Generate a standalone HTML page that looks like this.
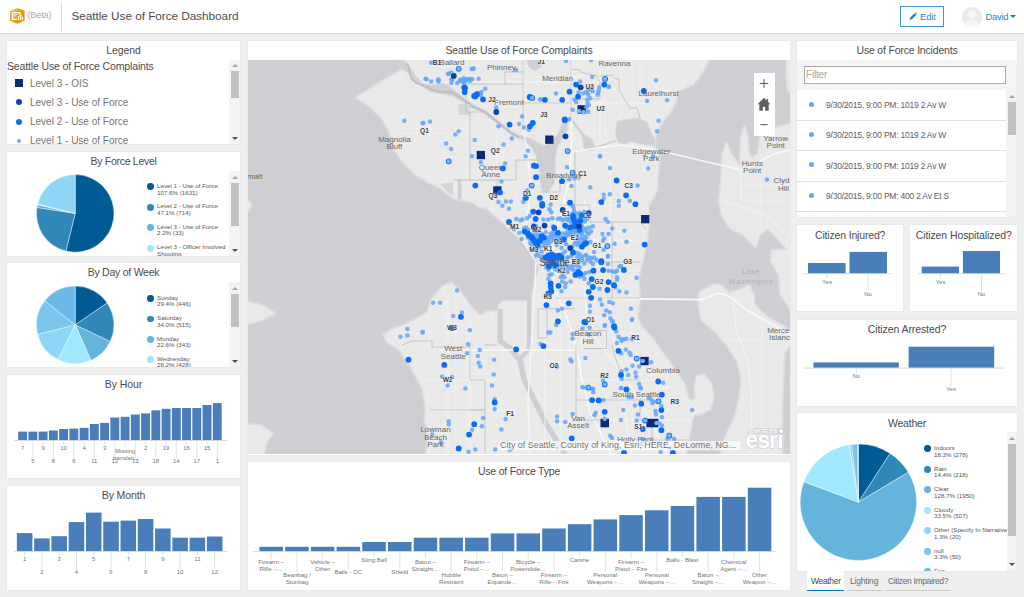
<!DOCTYPE html>
<html><head><meta charset="utf-8"><title>Seattle Use of Force Dashboard</title>
<style>
html,body{margin:0;padding:0}
body{width:1024px;height:597px;overflow:hidden;background:#efefef;font-family:"Liberation Sans",sans-serif;color:#4c4c4c;position:relative}
.abs{position:absolute}
.panel{position:absolute;background:#fff;box-shadow:0 0 1px rgba(0,0,0,.12)}
.title{position:absolute;left:0;right:0;text-align:center;font-size:11px;color:#4c4c4c;white-space:nowrap;letter-spacing:-0.1px}
svg{position:absolute;left:0;top:0;overflow:visible}
svg text{font-family:"Liberation Sans",sans-serif}
.sb{position:absolute;background:#f3f3f3}
.thumb{position:absolute;background:#c1c1c1}
.arr{position:absolute;width:0;height:0;border-left:3px solid transparent;border-right:3px solid transparent}
.up{border-bottom:3px solid #a3a3a3}
.dn{border-top:3px solid #505050}
.lg{position:absolute;font-size:10px;color:#777;white-space:nowrap}
.pl{position:absolute;font-size:6.2px;line-height:6.6px;color:#555;white-space:nowrap}
.row{position:absolute;left:0;width:209px;height:30px;border-bottom:1px solid #e0e0e0;font-size:8.5px;color:#606060;white-space:nowrap;letter-spacing:-0.22px}
.row i{position:absolute;left:12px;top:11.8px;width:5px;height:5px;border-radius:50%;background:#66a6f7}
.row span{position:absolute;left:29px;top:10px}
</style></head><body>

<div class="abs" style="left:0;top:0;width:1024px;height:33px;background:#fff;border-bottom:1px solid #d8d8d8"></div>
<svg class="abs" style="left:9px;top:7px" width="18" height="18" viewBox="0 0 18 18">
<defs><linearGradient id="lg1" x1="0" y1="0" x2="1" y2="1"><stop offset="0" stop-color="#f7c23c"/><stop offset="1" stop-color="#e08a00"/></linearGradient></defs>
<path d="M8.2 1.2L15.5 3.2V13.7L8.2 16.7L1 14.1V4Z" fill="url(#lg1)"/>
<path d="M8.2 1.2L15.5 3.2V13.7L8.2 16.7Z" fill="#e58f00" fill-opacity="0.35"/>
<path d="M3.5 5.5H10.8V8.2M3.5 5.5V12.4H8" fill="none" stroke="#fff" stroke-width="1.25"/>
<path d="M5.5 10V7.5H8.8" fill="none" stroke="#fff" stroke-width="0.8"/>
<path d="M9.6 8.9V13.3M11.8 8.1V13.3" stroke="#fff" stroke-width="1.35"/><path d="M13.6 10V13.3" stroke="#fff" stroke-width="1.1"/>
</svg>
<div class="abs" style="left:27.5px;top:10px;font-size:9.3px;color:#aaa;letter-spacing:-0.25px">(Beta)</div>
<div class="abs" style="left:61px;top:2px;width:1px;height:29px;background:#ddd"></div>
<div class="abs" style="left:71.5px;top:9.1px;font-size:11.8px;color:#4c4c4c;white-space:nowrap;letter-spacing:-0.05px">Seattle Use of Force Dashboard</div>
<div class="abs" style="left:900px;top:6px;width:42px;height:19px;border:1px solid #3b95d3;background:#fff;box-sizing:content-box"></div>
<svg class="abs" style="left:908.5px;top:12px" width="8.5" height="8.5" viewBox="0 0 9 9"><path d="M0.5 8.5L1.2 6L5.8 1.4L7.6 3.2L3 7.8Z M6.4 0.8L7 0.2L8.8 2L8.2 2.6Z" fill="#1a7fc4"/></svg>
<div class="abs" style="left:920px;top:10.5px;font-size:9.5px;color:#2b8acb;letter-spacing:-0.2px">Edit</div>
<svg class="abs" style="left:961px;top:6px" width="22" height="22" viewBox="0 0 22 22"><defs><clipPath id="av"><circle cx="11" cy="11" r="10"/></clipPath></defs><circle cx="11" cy="11" r="10" fill="#ebebeb"/><g clip-path="url(#av)" fill="#f6f6f6"><circle cx="11" cy="8.5" r="4.2"/><ellipse cx="11" cy="21" rx="8.5" ry="7.5"/></g></svg>
<div class="abs" style="left:985.5px;top:10.5px;font-size:9.5px;color:#2b8acb;letter-spacing:-0.3px">David</div>
<div class="arr" style="left:1010px;top:15px;border-top:3px solid #1a7fc4"></div>

<div class="panel" style="left:7px;top:41px;width:233px;height:103.3px;overflow:hidden">
<div class="title" style="top:3.25px;font-size:10.5px;letter-spacing:-0.090px">Legend</div>
<div class="abs" style="left:0px;top:19.4px;font-size:10.5px;color:#4c4c4c;white-space:nowrap;letter-spacing:-0.145px">Seattle Use of Force Complaints</div>
<div class="abs" style="left:7.5px;top:37.8px;width:8.7px;height:8.7px;background:#0b2a73"></div>
<div class="lg" style="left:23px;top:36.5px">Level 3 - OIS</div>
<div class="abs" style="left:9px;top:58.4px;width:6px;height:6px;border-radius:50%;background:#0a47ad"></div>
<div class="lg" style="left:23px;top:55.7px">Level 3 - Use of Force</div>
<div class="abs" style="left:9px;top:77.6px;width:6px;height:6px;border-radius:50%;background:#0f6cf5"></div>
<div class="lg" style="left:23px;top:74.9px">Level 2 - Use of Force</div>
<div class="abs" style="left:10px;top:97.8px;width:4px;height:4px;border-radius:50%;background:#6aa8f8"></div>
<div class="lg" style="left:23px;top:94.2px">Level 1 - Use of Force</div>
<div class="sb" style="left:222px;top:19px;width:11px;height:85px"></div>
<div class="arr up" style="left:225px;top:23px"></div>
<div class="thumb" style="left:224px;top:30px;width:8px;height:27px"></div>
<div class="arr dn" style="left:225px;top:96px"></div>
</div>

<div class="panel" style="left:7px;top:152px;width:233px;height:104px;overflow:hidden">
<div class="title" style="top:3.25px;font-size:10.5px;letter-spacing:-0.288px">By Force Level</div>
<svg width="233" height="104"><path d="M68.20 61.40L68.20 22.60A38.8 38.8 0 1 1 58.94 99.08Z" fill="#005b94" stroke="#fff" stroke-width="0.4" stroke-linejoin="round"/>
<path d="M68.20 61.40L58.94 99.08A38.8 38.8 0 0 1 29.86 55.46Z" fill="#2f88b8" stroke="#fff" stroke-width="0.4" stroke-linejoin="round"/>
<path d="M68.20 61.40L29.86 55.46A38.8 38.8 0 0 1 30.39 52.67Z" fill="#64b4dc" stroke="#fff" stroke-width="0.4" stroke-linejoin="round"/>
<path d="M68.20 61.40L30.39 52.67A38.8 38.8 0 0 1 30.59 51.88Z" fill="#a0e8ff" stroke="#fff" stroke-width="0.4" stroke-linejoin="round"/>
<path d="M68.20 61.40L30.59 51.88A38.8 38.8 0 0 1 68.20 22.60Z" fill="#8dd6f6" stroke="#fff" stroke-width="0.4" stroke-linejoin="round"/></svg>
<div class="abs" style="left:140.1px;top:31.4px;width:6.8px;height:6.8px;border-radius:50%;background:#005b94"></div><div class="pl" style="left:150px;top:31.0px">Level 1 - Use of Force<br>107.6% (1631)</div><div class="abs" style="left:140.1px;top:51.85px;width:6.8px;height:6.8px;border-radius:50%;background:#2f88b8"></div><div class="pl" style="left:150px;top:51.45px">Level 2 - Use of Force<br>47.1% (714)</div><div class="abs" style="left:140.1px;top:72.30000000000001px;width:6.8px;height:6.8px;border-radius:50%;background:#64b4dc"></div><div class="pl" style="left:150px;top:71.9px">Level 3 - Use of Force<br>2.2% (33)</div><div class="abs" style="left:140.1px;top:92.75px;width:6.8px;height:6.8px;border-radius:50%;background:#a0e8ff"></div><div class="pl" style="left:150px;top:92.35px">Level 3 - Officer Involved<br>Shooting</div>
<div class="sb" style="left:222px;top:19px;width:11px;height:85px"></div>
<div class="arr up" style="left:225px;top:24px"></div>
<div class="thumb" style="left:224px;top:31px;width:8px;height:43px"></div>
<div class="arr dn" style="left:225px;top:97px"></div>
</div>
<div class="panel" style="left:7px;top:263px;width:233px;height:104px;overflow:hidden">
<div class="title" style="top:3.25px;font-size:10.5px;letter-spacing:-0.249px">By Day of Week</div>
<svg width="233" height="104"><path d="M68.20 61.90L68.20 23.10A38.8 38.8 0 0 1 100.18 39.92Z" fill="#005b94" stroke="#fff" stroke-width="0.4" stroke-linejoin="round"/>
<path d="M68.20 61.90L100.18 39.92A38.8 38.8 0 0 1 103.22 78.60Z" fill="#2f88b8" stroke="#fff" stroke-width="0.4" stroke-linejoin="round"/>
<path d="M68.20 61.90L103.22 78.60A38.8 38.8 0 0 1 83.98 97.35Z" fill="#64b4dc" stroke="#fff" stroke-width="0.4" stroke-linejoin="round"/>
<path d="M68.20 61.90L83.98 97.35A38.8 38.8 0 0 1 50.89 96.62Z" fill="#a0e8ff" stroke="#fff" stroke-width="0.4" stroke-linejoin="round"/>
<path d="M68.20 61.90L50.89 96.62A38.8 38.8 0 0 1 30.55 71.29Z" fill="#8dd6f6" stroke="#fff" stroke-width="0.4" stroke-linejoin="round"/>
<path d="M68.20 61.90L30.55 71.29A38.8 38.8 0 0 1 37.83 37.75Z" fill="#7cc6ee" stroke="#fff" stroke-width="0.4" stroke-linejoin="round"/>
<path d="M68.20 61.90L37.83 37.75A38.8 38.8 0 0 1 68.20 23.10Z" fill="#6cb8e6" stroke="#fff" stroke-width="0.4" stroke-linejoin="round"/></svg>
<div class="abs" style="left:140.1px;top:32.1px;width:6.8px;height:6.8px;border-radius:50%;background:#005b94"></div><div class="pl" style="left:150px;top:31.7px">Sunday<br>29.4% (446)</div><div class="abs" style="left:140.1px;top:52.49999999999999px;width:6.8px;height:6.8px;border-radius:50%;background:#2f88b8"></div><div class="pl" style="left:150px;top:52.099999999999994px">Saturday<br>34.0% (515)</div><div class="abs" style="left:140.1px;top:72.9px;width:6.8px;height:6.8px;border-radius:50%;background:#64b4dc"></div><div class="pl" style="left:150px;top:72.5px">Monday<br>22.6% (343)</div><div class="abs" style="left:140.1px;top:93.3px;width:6.8px;height:6.8px;border-radius:50%;background:#a0e8ff"></div><div class="pl" style="left:150px;top:92.89999999999999px">Wednesday<br>28.2% (428)</div>
<div class="sb" style="left:222px;top:19px;width:11px;height:85px"></div>
<div class="arr up" style="left:225px;top:24px"></div>
<div class="thumb" style="left:224px;top:31px;width:8px;height:33px"></div>
<div class="arr dn" style="left:225px;top:97px"></div>
</div>
<div class="panel" style="left:7px;top:375px;width:233px;height:103px;overflow:hidden">
<div class="title" style="top:3.25px;font-size:10.5px;letter-spacing:-0.090px">By Hour</div>
<svg width="233" height="103"><path d="M7.5 65.5H220.5" stroke="#d9d9d9" stroke-width="1"/><rect x="11.17" y="56.60" width="8.91" height="8.40" fill="#4a7ebb"/><rect x="21.41" y="56.60" width="8.91" height="8.40" fill="#4a7ebb"/><rect x="31.66" y="56.60" width="8.91" height="8.40" fill="#4a7ebb"/><rect x="41.90" y="55.50" width="8.91" height="9.50" fill="#4a7ebb"/><rect x="52.15" y="54.00" width="8.91" height="11.00" fill="#4a7ebb"/><rect x="62.39" y="53.60" width="8.91" height="11.40" fill="#4a7ebb"/><rect x="72.64" y="52.80" width="8.91" height="12.20" fill="#4a7ebb"/><rect x="82.88" y="49.00" width="8.91" height="16.00" fill="#4a7ebb"/><rect x="93.13" y="47.90" width="8.91" height="17.10" fill="#4a7ebb"/><rect x="103.37" y="42.50" width="8.91" height="22.50" fill="#4a7ebb"/><rect x="113.62" y="41.80" width="8.91" height="23.20" fill="#4a7ebb"/><rect x="123.86" y="39.50" width="8.91" height="25.50" fill="#4a7ebb"/><rect x="134.11" y="38.40" width="8.91" height="26.60" fill="#4a7ebb"/><rect x="144.35" y="35.30" width="8.91" height="29.70" fill="#4a7ebb"/><rect x="154.60" y="33.80" width="8.91" height="31.20" fill="#4a7ebb"/><rect x="164.84" y="33.00" width="8.91" height="32.00" fill="#4a7ebb"/><rect x="175.09" y="33.00" width="8.91" height="32.00" fill="#4a7ebb"/><rect x="185.33" y="33.00" width="8.91" height="32.00" fill="#4a7ebb"/><rect x="195.58" y="30.00" width="8.91" height="35.00" fill="#4a7ebb"/><rect x="205.82" y="28.10" width="8.91" height="36.90" fill="#4a7ebb"/><path d="M15.6 66V70.2" stroke="#d9d9d9" stroke-width="0.8"/><text x="15.6" y="75.2" font-size="6" fill="#757575" text-anchor="middle">7</text><path d="M25.9 66V83.2" stroke="#d9d9d9" stroke-width="0.8"/><text x="25.9" y="88.2" font-size="6" fill="#757575" text-anchor="middle">5</text><path d="M36.1 66V70.2" stroke="#d9d9d9" stroke-width="0.8"/><text x="36.1" y="75.2" font-size="6" fill="#757575" text-anchor="middle">9</text><path d="M46.4 66V83.2" stroke="#d9d9d9" stroke-width="0.8"/><text x="46.4" y="88.2" font-size="6" fill="#757575" text-anchor="middle">8</text><path d="M56.6 66V70.2" stroke="#d9d9d9" stroke-width="0.8"/><text x="56.6" y="75.2" font-size="6" fill="#757575" text-anchor="middle">10</text><path d="M66.8 66V83.2" stroke="#d9d9d9" stroke-width="0.8"/><text x="66.8" y="88.2" font-size="6" fill="#757575" text-anchor="middle">6</text><path d="M77.1 66V70.2" stroke="#d9d9d9" stroke-width="0.8"/><text x="77.1" y="75.2" font-size="6" fill="#757575" text-anchor="middle">4</text><path d="M87.3 66V83.2" stroke="#d9d9d9" stroke-width="0.8"/><text x="87.3" y="88.2" font-size="6" fill="#757575" text-anchor="middle">11</text><path d="M97.6 66V70.2" stroke="#d9d9d9" stroke-width="0.8"/><text x="97.6" y="75.2" font-size="6" fill="#757575" text-anchor="middle">3</text><path d="M107.8 66V83.2" stroke="#d9d9d9" stroke-width="0.8"/><text x="107.8" y="88.2" font-size="6" fill="#757575" text-anchor="middle">12</text><path d="M118.1 66V72.5" stroke="#d9d9d9" stroke-width="0.8"/><text x="118.1" y="77.5" font-size="6" fill="#757575" text-anchor="middle">Missing</text><text x="118.1" y="84.5" font-size="6" fill="#757575" text-anchor="middle">translati..</text><path d="M128.3 66V83.2" stroke="#d9d9d9" stroke-width="0.8"/><text x="128.3" y="88.2" font-size="6" fill="#757575" text-anchor="middle">13</text><path d="M138.6 66V70.2" stroke="#d9d9d9" stroke-width="0.8"/><text x="138.6" y="75.2" font-size="6" fill="#757575" text-anchor="middle">2</text><path d="M148.8 66V83.2" stroke="#d9d9d9" stroke-width="0.8"/><text x="148.8" y="88.2" font-size="6" fill="#757575" text-anchor="middle">18</text><path d="M159.1 66V70.2" stroke="#d9d9d9" stroke-width="0.8"/><text x="159.1" y="75.2" font-size="6" fill="#757575" text-anchor="middle">19</text><path d="M169.3 66V83.2" stroke="#d9d9d9" stroke-width="0.8"/><text x="169.3" y="88.2" font-size="6" fill="#757575" text-anchor="middle">14</text><path d="M179.5 66V70.2" stroke="#d9d9d9" stroke-width="0.8"/><text x="179.5" y="75.2" font-size="6" fill="#757575" text-anchor="middle">16</text><path d="M189.8 66V83.2" stroke="#d9d9d9" stroke-width="0.8"/><text x="189.8" y="88.2" font-size="6" fill="#757575" text-anchor="middle">17</text><path d="M200.0 66V70.2" stroke="#d9d9d9" stroke-width="0.8"/><text x="200.0" y="75.2" font-size="6" fill="#757575" text-anchor="middle">15</text><path d="M210.3 66V83.2" stroke="#d9d9d9" stroke-width="0.8"/><text x="210.3" y="88.2" font-size="6" fill="#757575" text-anchor="middle">1</text></svg>
</div>
<div class="panel" style="left:7px;top:486px;width:233px;height:104px;overflow:hidden">
<div class="title" style="top:3.25px;font-size:10.5px;letter-spacing:-0.119px">By Month</div>
<svg width="233" height="104"><path d="M7.5 65.5H220.5" stroke="#d9d9d9" stroke-width="1"/><rect x="9.86" y="47.10" width="15.55" height="17.90" fill="#4a7ebb"/><rect x="27.14" y="52.40" width="15.55" height="12.60" fill="#4a7ebb"/><rect x="44.41" y="50.20" width="15.55" height="14.80" fill="#4a7ebb"/><rect x="61.69" y="36.10" width="15.55" height="28.90" fill="#4a7ebb"/><rect x="78.96" y="26.60" width="15.55" height="38.40" fill="#4a7ebb"/><rect x="96.24" y="35.70" width="15.55" height="29.30" fill="#4a7ebb"/><rect x="113.51" y="34.60" width="15.55" height="30.40" fill="#4a7ebb"/><rect x="130.79" y="33.00" width="15.55" height="32.00" fill="#4a7ebb"/><rect x="148.06" y="42.50" width="15.55" height="22.50" fill="#4a7ebb"/><rect x="165.34" y="51.70" width="15.55" height="13.30" fill="#4a7ebb"/><rect x="182.61" y="51.70" width="15.55" height="13.30" fill="#4a7ebb"/><rect x="199.89" y="50.50" width="15.55" height="14.50" fill="#4a7ebb"/><path d="M17.6 66V69.7" stroke="#d9d9d9" stroke-width="0.8"/><text x="17.6" y="74.7" font-size="6" fill="#757575" text-anchor="middle">1</text><path d="M34.9 66V83.2" stroke="#d9d9d9" stroke-width="0.8"/><text x="34.9" y="88.2" font-size="6" fill="#757575" text-anchor="middle">2</text><path d="M52.2 66V69.7" stroke="#d9d9d9" stroke-width="0.8"/><text x="52.2" y="74.7" font-size="6" fill="#757575" text-anchor="middle">3</text><path d="M69.5 66V83.2" stroke="#d9d9d9" stroke-width="0.8"/><text x="69.5" y="88.2" font-size="6" fill="#757575" text-anchor="middle">4</text><path d="M86.7 66V69.7" stroke="#d9d9d9" stroke-width="0.8"/><text x="86.7" y="74.7" font-size="6" fill="#757575" text-anchor="middle">5</text><path d="M104.0 66V83.2" stroke="#d9d9d9" stroke-width="0.8"/><text x="104.0" y="88.2" font-size="6" fill="#757575" text-anchor="middle">6</text><path d="M121.3 66V69.7" stroke="#d9d9d9" stroke-width="0.8"/><text x="121.3" y="74.7" font-size="6" fill="#757575" text-anchor="middle">7</text><path d="M138.6 66V83.2" stroke="#d9d9d9" stroke-width="0.8"/><text x="138.6" y="88.2" font-size="6" fill="#757575" text-anchor="middle">8</text><path d="M155.8 66V69.7" stroke="#d9d9d9" stroke-width="0.8"/><text x="155.8" y="74.7" font-size="6" fill="#757575" text-anchor="middle">9</text><path d="M173.1 66V83.2" stroke="#d9d9d9" stroke-width="0.8"/><text x="173.1" y="88.2" font-size="6" fill="#757575" text-anchor="middle">10</text><path d="M190.4 66V69.7" stroke="#d9d9d9" stroke-width="0.8"/><text x="190.4" y="74.7" font-size="6" fill="#757575" text-anchor="middle">11</text><path d="M207.7 66V83.2" stroke="#d9d9d9" stroke-width="0.8"/><text x="207.7" y="88.2" font-size="6" fill="#757575" text-anchor="middle">12</text></svg>
</div>
<div class="panel" style="left:248px;top:41px;width:542px;height:413.5px;overflow:hidden">
<div class="title" style="top:3.25px;font-size:10.5px;letter-spacing:-0.134px">Seattle Use of Force Complaints</div>
<div class="abs" style="left:0;top:19px;width:542px;height:394px;overflow:hidden;background:#cccbd0">
<svg width="542" height="395" viewBox="248 60 542 395" style="position:absolute;left:0;top:0">
<rect x="248" y="60" width="542" height="395" fill="#cfced3"/>
<polygon points="403.9,59.0 709.0,59.0 701.7,73.3 692.9,84.3 677.4,91.0 676.3,99.8 670.8,110.9 661.9,121.9 655.3,135.2 654.2,148.5 659.7,157.3 657.5,175.0 657.0,190.0 648.5,205.0 648.5,225.0 646.3,243.7 642.0,262.0 638.1,279.0 640.0,300.0 637.0,318.0 640.9,326.0 650.9,337.3 664.1,355.0 675.2,370.5 684.0,383.7 688.5,399.2 692.9,401.4 695.5,397.0 695.0,385.0 697.0,376.3 704.0,375.2 711.1,383.4 713.5,397.5 710.0,409.2 699.4,413.9 694.0,414.5 691.8,421.3 688.5,439.0 685.2,456.0 426.6,456.0 428.0,428.0 425.0,421.3 426.0,408.0 422.7,388.0 411.6,368.2 400.6,350.5 387.3,341.7 384.0,335.0 391.7,329.5 407.2,324.0 428.0,312.5 431.0,300.4 442.1,287.1 451.0,282.7 459.8,291.5 470.9,307.0 479.7,315.8 486.3,312.5 496.0,311.4 498.0,312.0 499.0,305.0 503.0,301.5 526.0,301.5 531.5,300.0 533.5,290.0 535.0,280.5 539.4,269.4 537.2,258.3 526.1,245.0 508.5,227.4 486.3,207.5 479.0,207.0 474.0,203.0 466.0,200.5 453.0,198.0 446.5,192.7 440.0,187.5 428.0,181.6 416.0,175.0 402.8,161.7 394.0,148.5 389.5,130.8 380.7,116.4 367.4,104.2 356.4,97.6 380.7,82.1 400.6,71.0 408.3,70.0" fill="#e9e9e9" stroke="#dcdcdf" stroke-width="3.4" stroke-linejoin="round"/>
<polygon points="699.4,292.7 713.5,284.5 721.7,285.7 728.7,292.7 739.3,290.4 748.7,285.7 753.4,293.9 754.6,305.6 767.5,317.4 783.9,326.8 791.0,331.0 791.0,343.0 783.9,352.9 782.7,378.7 781.5,413.9 782.7,437.4 781.5,456.0 720.5,456.0 725.2,437.4 734.6,418.6 739.3,399.8 741.6,381.0 738.1,362.3 727.6,345.8 715.8,331.7 701.7,320.0 699.0,305.0" fill="#e9e9e9" stroke="#dcdcdf" stroke-width="3.4" stroke-linejoin="round"/>
<polygon points="791.0,124.0 776.0,128.0 766.0,134.0 760.4,137.5 758.0,153.9 751.5,158.6 748.7,153.9 747.5,137.5 744.5,126.9 741.2,137.5 740.5,153.9 740.5,166.0 737.0,163.3 731.0,154.0 726.4,143.3 722.9,153.9 721.7,177.4 719.3,200.0 721.7,214.0 730.0,228.0 744.0,235.0 755.7,247.0 759.2,235.0 767.5,228.0 779.2,240.0 787.4,249.3 791.0,255.0" fill="#e9e9e9" stroke="#dcdcdf" stroke-width="3.4" stroke-linejoin="round"/>
<polygon points="791.0,250.0 772.0,250.5 771.0,261.0 779.2,275.0 780.4,294.0 788.6,305.6 791.0,310.0" fill="#e9e9e9" stroke="#dcdcdf" stroke-width="3.4" stroke-linejoin="round"/>
<polygon points="787.4,59.0 791.0,59.0 791.0,92.0 788.0,90.0 786.5,75.0" fill="#e9e9e9" stroke="#dcdcdf" stroke-width="3.4" stroke-linejoin="round"/>
<polygon points="247.0,301.5 265.7,307.0 274.5,313.6 261.3,320.0 247.0,324.0" fill="#e9e9e9" stroke="#dcdcdf" stroke-width="3.4" stroke-linejoin="round"/>
<polygon points="247.0,424.6 261.3,425.7 272.3,433.5 265.7,443.4 263.5,456.0 247.0,456.0" fill="#e9e9e9" stroke="#dcdcdf" stroke-width="3.4" stroke-linejoin="round"/>
<polygon points="247.0,199.0 251.0,206.0 247.0,212.0" fill="#e9e9e9" stroke="#dcdcdf" stroke-width="3.4" stroke-linejoin="round"/>
<polygon points="403.9,59.0 709.0,59.0 701.7,73.3 692.9,84.3 677.4,91.0 676.3,99.8 670.8,110.9 661.9,121.9 655.3,135.2 654.2,148.5 659.7,157.3 657.5,175.0 657.0,190.0 648.5,205.0 648.5,225.0 646.3,243.7 642.0,262.0 638.1,279.0 640.0,300.0 637.0,318.0 640.9,326.0 650.9,337.3 664.1,355.0 675.2,370.5 684.0,383.7 688.5,399.2 692.9,401.4 695.5,397.0 695.0,385.0 697.0,376.3 704.0,375.2 711.1,383.4 713.5,397.5 710.0,409.2 699.4,413.9 694.0,414.5 691.8,421.3 688.5,439.0 685.2,456.0 426.6,456.0 428.0,428.0 425.0,421.3 426.0,408.0 422.7,388.0 411.6,368.2 400.6,350.5 387.3,341.7 384.0,335.0 391.7,329.5 407.2,324.0 428.0,312.5 431.0,300.4 442.1,287.1 451.0,282.7 459.8,291.5 470.9,307.0 479.7,315.8 486.3,312.5 496.0,311.4 498.0,312.0 499.0,305.0 503.0,301.5 526.0,301.5 531.5,300.0 533.5,290.0 535.0,280.5 539.4,269.4 537.2,258.3 526.1,245.0 508.5,227.4 486.3,207.5 479.0,207.0 474.0,203.0 466.0,200.5 453.0,198.0 446.5,192.7 440.0,187.5 428.0,181.6 416.0,175.0 402.8,161.7 394.0,148.5 389.5,130.8 380.7,116.4 367.4,104.2 356.4,97.6 380.7,82.1 400.6,71.0 408.3,70.0" fill="#e9e9e9"/>
<polygon points="699.4,292.7 713.5,284.5 721.7,285.7 728.7,292.7 739.3,290.4 748.7,285.7 753.4,293.9 754.6,305.6 767.5,317.4 783.9,326.8 791.0,331.0 791.0,343.0 783.9,352.9 782.7,378.7 781.5,413.9 782.7,437.4 781.5,456.0 720.5,456.0 725.2,437.4 734.6,418.6 739.3,399.8 741.6,381.0 738.1,362.3 727.6,345.8 715.8,331.7 701.7,320.0 699.0,305.0" fill="#e9e9e9"/>
<polygon points="791.0,124.0 776.0,128.0 766.0,134.0 760.4,137.5 758.0,153.9 751.5,158.6 748.7,153.9 747.5,137.5 744.5,126.9 741.2,137.5 740.5,153.9 740.5,166.0 737.0,163.3 731.0,154.0 726.4,143.3 722.9,153.9 721.7,177.4 719.3,200.0 721.7,214.0 730.0,228.0 744.0,235.0 755.7,247.0 759.2,235.0 767.5,228.0 779.2,240.0 787.4,249.3 791.0,255.0" fill="#e9e9e9"/>
<polygon points="791.0,250.0 772.0,250.5 771.0,261.0 779.2,275.0 780.4,294.0 788.6,305.6 791.0,310.0" fill="#e9e9e9"/>
<polygon points="787.4,59.0 791.0,59.0 791.0,92.0 788.0,90.0 786.5,75.0" fill="#e9e9e9"/>
<polygon points="247.0,301.5 265.7,307.0 274.5,313.6 261.3,320.0 247.0,324.0" fill="#e9e9e9"/>
<polygon points="247.0,424.6 261.3,425.7 272.3,433.5 265.7,443.4 263.5,456.0 247.0,456.0" fill="#e9e9e9"/>
<polygon points="247.0,199.0 251.0,206.0 247.0,212.0" fill="#e9e9e9"/>
<clipPath id="landclip"><polygon points="403.9,59.0 709.0,59.0 701.7,73.3 692.9,84.3 677.4,91.0 676.3,99.8 670.8,110.9 661.9,121.9 655.3,135.2 654.2,148.5 659.7,157.3 657.5,175.0 657.0,190.0 648.5,205.0 648.5,225.0 646.3,243.7 642.0,262.0 638.1,279.0 640.0,300.0 637.0,318.0 640.9,326.0 650.9,337.3 664.1,355.0 675.2,370.5 684.0,383.7 688.5,399.2 692.9,401.4 695.5,397.0 695.0,385.0 697.0,376.3 704.0,375.2 711.1,383.4 713.5,397.5 710.0,409.2 699.4,413.9 694.0,414.5 691.8,421.3 688.5,439.0 685.2,456.0 426.6,456.0 428.0,428.0 425.0,421.3 426.0,408.0 422.7,388.0 411.6,368.2 400.6,350.5 387.3,341.7 384.0,335.0 391.7,329.5 407.2,324.0 428.0,312.5 431.0,300.4 442.1,287.1 451.0,282.7 459.8,291.5 470.9,307.0 479.7,315.8 486.3,312.5 496.0,311.4 498.0,312.0 499.0,305.0 503.0,301.5 526.0,301.5 531.5,300.0 533.5,290.0 535.0,280.5 539.4,269.4 537.2,258.3 526.1,245.0 508.5,227.4 486.3,207.5 479.0,207.0 474.0,203.0 466.0,200.5 453.0,198.0 446.5,192.7 440.0,187.5 428.0,181.6 416.0,175.0 402.8,161.7 394.0,148.5 389.5,130.8 380.7,116.4 367.4,104.2 356.4,97.6 380.7,82.1 400.6,71.0 408.3,70.0"/></clipPath>
<g clip-path="url(#landclip)"><path d="M402.0 59V457M416.0 59V457M429.0 59V457M445.0 59V457M456.0 59V457M467.0 59V457M478.0 59V457M492.0 59V457M503.0 59V457M516.0 59V457M527.0 59V457M538.0 59V457M554.0 59V457M570.0 59V457M581.0 59V457M594.0 59V457M605.0 59V457M621.0 59V457M632.0 59V457M643.0 59V457M656.0 59V457M667.0 59V457M683.0 59V457M694.0 59V457M380 66.0H712M380 77.0H712M380 90.0H712M380 104.0H712M380 120.0H712M380 133.0H712M380 144.0H712M380 158.0H712M380 171.0H712M380 182.0H712M380 195.0H712M380 209.0H712M380 220.0H712M380 231.0H712M380 242.0H712M380 255.0H712M380 271.0H712M380 287.0H712M380 301.0H712M380 317.0H712M380 333.0H712M380 347.0H712M380 361.0H712M380 374.0H712M380 387.0H712M380 400.0H712M380 411.0H712M380 425.0H712M380 441.0H712M380 455.0H712" stroke="#f1f1f1" stroke-width="0.7" fill="none"/></g>
<polygon points="403.9,59.0 404.0,60.4 410.5,68.5 416.1,76.5 424.1,83.7 432.2,85.3 441.8,82.9 448.2,85.3 456.3,91.8 464.3,98.2 472.0,103.5 486.0,110.8 499.4,121.3 512.5,131.8 520.0,135.5 519.0,139.0 510.5,134.6 497.4,124.1 484.3,113.8 470.0,107.6 468.3,106.0 460.3,100.6 452.3,95.8 441.8,94.2 430.5,91.8 420.1,85.3 412.1,81.3 408.0,72.5 400.0,68.5 399.0,64.0" fill="#cfced3" stroke="#dcdcdf" stroke-width="1"/>
<polygon points="518.0,134.5 523.6,136.5 531.5,139.1 539.3,143.1 544.5,145.7 551.0,141.8 557.6,133.9 559.5,130.0 563.0,122.0 566.4,119.1 568.4,120.1 567.4,130.0 565.4,132.6 560.2,141.8 556.9,149.6 555.0,160.0 555.6,173.1 554.3,183.6 548.4,191.4 543.9,192.7 541.3,187.5 540.0,179.6 538.6,166.6 536.0,156.1 531.5,147.0 524.9,141.8 518.4,136.5" fill="#cfced3" stroke="#dcdcdf" stroke-width="1"/>
<polygon points="617.1,121.0 624.7,119.5 638.8,118.1 646.8,122.1 651.0,131.8 655.0,139.6 655.0,146.1 644.5,144.8 636.7,143.5 631.5,141.6 623.6,144.2 618.4,142.2 615.8,137.0 615.8,127.8" fill="#cfced3" stroke="#dcdcdf" stroke-width="1"/>
<polygon points="573.3,120.0 579.2,127.8 583.8,134.4 592.3,139.6 594.9,146.1 597.5,148.1 592.3,150.7 584.4,150.0 583.1,143.5 581.8,135.7 576.6,127.8 571.4,122.6" fill="#cfced3" stroke="#dcdcdf" stroke-width="1"/>
<polygon points="526.0,59.0 544.0,59.0 541.0,67.0 535.0,71.0 529.0,67.0" fill="#cfced3" stroke="#dcdcdf" stroke-width="1"/>
<path d="M407.2 62.8L411.3 78.1L416.1 82.9L424.1 86.1L433.8 90.2L441.8 91.8L452.3 92.6L461.1 98.2L472.3 106L485.3 112.3L498.4 122.7L511.5 133.2L519 137.5" fill="none" stroke="#bcbcc1" stroke-width="1.6" stroke-linejoin="round"/>
<rect x="457.8" y="180" width="3.6" height="19" fill="#cfced3"/>
<polygon points="440,184 453,182 453,196 446.5,191.5" fill="#d6d6d8"/>
<path d="M596 147.5L616 140.5" stroke="#cfced3" stroke-width="1.6"/>
<path d="M500.3 309V341L512 350L520.5 361.6L524 379.3L535 401.4L546 423.5L557 441L566 457" fill="none" stroke="#cfced3" stroke-width="5.5" stroke-linejoin="round"/>
<path d="M529 298V349L521 358" fill="none" stroke="#cfced3" stroke-width="4.4" stroke-linejoin="round"/>
<rect x="458.7" y="104" width="11" height="11" fill="#d6d6d8"/>

<path d="M571.5 59.0L571.5 150.0L569.0 180.0L563.0 205.0L556.0 232.0L551.0 262.0L555.0 290.0L566.0 315.0L576.0 346.0L582.0 380.0L590.0 412.0L600.0 432.0L612.0 457.0" fill="none" stroke="#f8f8f8" stroke-width="1.8" stroke-linejoin="round" stroke-linecap="round"/>
<path d="M523.0 59.0L523.0 128.0L527.0 150.0L531.0 190.0L527.0 215.0L524.0 243.0L536.0 262.0L534.0 300.0L531.0 350.0L528.0 400.0L530.0 457.0" fill="none" stroke="#f8f8f8" stroke-width="1.3" stroke-linejoin="round" stroke-linecap="round"/>
<path d="M556.0 298.0L600.0 298.0L640.0 298.8L701.7 299.7L709.0 297.0L715.0 293.7L722.9 293.9L732.7 298.2L744.0 308.0L767.5 322.0L791.0 335.0" fill="none" stroke="#f8f8f8" stroke-width="1.8" stroke-linejoin="round" stroke-linecap="round"/>
<path d="M571.5 152.0L600.0 147.5L622.0 145.0L654.0 149.6L743.8 170.6L760.4 161.0L776.9 152.7L791.0 150.4" fill="none" stroke="#f8f8f8" stroke-width="1.5" stroke-linejoin="round" stroke-linecap="round"/>
<path d="M440.0 350.0L479.7 350.0L520.0 350.0L576.0 350.0" fill="none" stroke="#f8f8f8" stroke-width="1.6" stroke-linejoin="round" stroke-linecap="round"/>
<path d="M420.0 82.0L460.0 82.0L523.0 82.0L571.0 82.0" fill="none" stroke="#f8f8f8" stroke-width="0.8" stroke-linejoin="round" stroke-linecap="round"/>
<path d="M523.0 103.0L571.0 103.0L640.0 103.0" fill="none" stroke="#f8f8f8" stroke-width="0.8" stroke-linejoin="round" stroke-linecap="round"/>
<path d="M600.0 59.0L600.0 140.0" fill="none" stroke="#f8f8f8" stroke-width="0.8" stroke-linejoin="round" stroke-linecap="round"/>
<path d="M640.0 59.0L640.0 100.0" fill="none" stroke="#f8f8f8" stroke-width="0.7" stroke-linejoin="round" stroke-linecap="round"/>
<path d="M470.0 120.0L470.0 180.0" fill="none" stroke="#f8f8f8" stroke-width="0.8" stroke-linejoin="round" stroke-linecap="round"/>
<path d="M497.0 135.0L497.0 195.0" fill="none" stroke="#f8f8f8" stroke-width="0.7" stroke-linejoin="round" stroke-linecap="round"/>
<path d="M400.0 128.0L440.0 128.0L470.0 128.0" fill="none" stroke="#f8f8f8" stroke-width="0.7" stroke-linejoin="round" stroke-linecap="round"/>
<path d="M585.0 200.0L585.0 300.0L590.0 330.0L612.0 360.0L640.0 400.0L660.0 440.0L668.0 457.0" fill="none" stroke="#f8f8f8" stroke-width="0.9" stroke-linejoin="round" stroke-linecap="round"/>
<path d="M610.0 160.0L610.0 300.0" fill="none" stroke="#f8f8f8" stroke-width="0.8" stroke-linejoin="round" stroke-linecap="round"/>
<path d="M610.0 300.0L612.0 330.0L620.0 380.0L632.0 457.0" fill="none" stroke="#f8f8f8" stroke-width="0.8" stroke-linejoin="round" stroke-linecap="round"/>
<path d="M640.0 205.0L560.0 205.0" fill="none" stroke="#f8f8f8" stroke-width="0.7" stroke-linejoin="round" stroke-linecap="round"/>
<path d="M640.0 240.0L540.0 240.0" fill="none" stroke="#f8f8f8" stroke-width="0.7" stroke-linejoin="round" stroke-linecap="round"/>
<path d="M640.0 270.0L545.0 270.0" fill="none" stroke="#f8f8f8" stroke-width="0.7" stroke-linejoin="round" stroke-linecap="round"/>
<path d="M448.0 300.0L448.0 457.0" fill="none" stroke="#f8f8f8" stroke-width="0.8" stroke-linejoin="round" stroke-linecap="round"/>
<path d="M470.0 320.0L470.0 457.0" fill="none" stroke="#f8f8f8" stroke-width="0.8" stroke-linejoin="round" stroke-linecap="round"/>
<path d="M425.0 380.0L500.0 380.0" fill="none" stroke="#f8f8f8" stroke-width="0.7" stroke-linejoin="round" stroke-linecap="round"/>
<path d="M430.0 410.0L500.0 410.0" fill="none" stroke="#f8f8f8" stroke-width="0.7" stroke-linejoin="round" stroke-linecap="round"/>
<path d="M545.0 330.0L545.0 457.0" fill="none" stroke="#f8f8f8" stroke-width="0.8" stroke-linejoin="round" stroke-linecap="round"/>
<path d="M560.0 300.0L560.0 457.0" fill="none" stroke="#f8f8f8" stroke-width="0.7" stroke-linejoin="round" stroke-linecap="round"/>
<path d="M576.0 380.0L660.0 380.0" fill="none" stroke="#f8f8f8" stroke-width="0.7" stroke-linejoin="round" stroke-linecap="round"/>
<path d="M590.0 420.0L690.0 420.0" fill="none" stroke="#f8f8f8" stroke-width="0.7" stroke-linejoin="round" stroke-linecap="round"/>
<path d="M733.0 298.0L736.0 330.0L748.0 360.0L752.0 400.0L750.0 457.0" fill="none" stroke="#f8f8f8" stroke-width="0.8" stroke-linejoin="round" stroke-linecap="round"/>
<path d="M762.0 320.0L762.0 457.0" fill="none" stroke="#f8f8f8" stroke-width="0.7" stroke-linejoin="round" stroke-linecap="round"/>
<path d="M722.0 340.0L760.0 340.0" fill="none" stroke="#f8f8f8" stroke-width="0.7" stroke-linejoin="round" stroke-linecap="round"/>
<path d="M741.0 170.0L741.0 200.0L790.0 200.0" fill="none" stroke="#f8f8f8" stroke-width="0.7" stroke-linejoin="round" stroke-linecap="round"/>
<path d="M741.0 185.0L790.0 185.0" fill="none" stroke="#f8f8f8" stroke-width="0.6" stroke-linejoin="round" stroke-linecap="round"/>
<path d="M760.0 161.0L760.0 230.0" fill="none" stroke="#f8f8f8" stroke-width="0.7" stroke-linejoin="round" stroke-linecap="round"/>
<path d="M722.0 200.0L765.0 215.0L790.0 235.0" fill="none" stroke="#f8f8f8" stroke-width="0.7" stroke-linejoin="round" stroke-linecap="round"/>
<path d="M466.0 84.0L466.0 112.0L478.0 112.0" fill="none" stroke="#bdbdbd" stroke-width="0.8" stroke-linejoin="round" stroke-linecap="round"/>
<path d="M466.0 84.0L523.0 84.0" fill="none" stroke="#bdbdbd" stroke-width="0.8" stroke-linejoin="round" stroke-linecap="round"/>
<path d="M505.0 84.0L505.0 72.0L523.0 72.0" fill="none" stroke="#bdbdbd" stroke-width="0.8" stroke-linejoin="round" stroke-linecap="round"/>
<path d="M523.0 59.0L523.0 128.0" fill="none" stroke="#bdbdbd" stroke-width="0.8" stroke-linejoin="round" stroke-linecap="round"/>
<path d="M523.0 103.0L571.0 103.0" fill="none" stroke="#bdbdbd" stroke-width="0.8" stroke-linejoin="round" stroke-linecap="round"/>
<path d="M571.0 59.0L571.0 120.0" fill="none" stroke="#bdbdbd" stroke-width="0.8" stroke-linejoin="round" stroke-linecap="round"/>
<path d="M572.0 69.5L580.0 69.5L580.0 72.0L597.0 76.0L600.0 82.0L600.0 99.0L572.0 99.0" fill="none" stroke="#bdbdbd" stroke-width="0.8" stroke-linejoin="round" stroke-linecap="round"/>
<path d="M600.0 76.0L612.0 75.0L616.0 79.0L619.0 79.0L619.0 90.0L625.0 100.0L630.0 108.0L637.0 108.0L640.0 118.0" fill="none" stroke="#bdbdbd" stroke-width="0.8" stroke-linejoin="round" stroke-linecap="round"/>
<path d="M470.0 112.0L470.0 180.0L454.0 180.0" fill="none" stroke="#bdbdbd" stroke-width="0.8" stroke-linejoin="round" stroke-linecap="round"/>
<path d="M470.0 180.0L516.0 180.0L516.0 160.0L540.0 160.0" fill="none" stroke="#bdbdbd" stroke-width="0.8" stroke-linejoin="round" stroke-linecap="round"/>
<path d="M497.0 180.0L497.0 200.0" fill="none" stroke="#bdbdbd" stroke-width="0.8" stroke-linejoin="round" stroke-linecap="round"/>
<path d="M540.0 192.0L560.0 192.0L560.0 180.0L575.0 180.0" fill="none" stroke="#bdbdbd" stroke-width="0.8" stroke-linejoin="round" stroke-linecap="round"/>
<path d="M575.0 152.0L575.0 205.0L590.0 205.0L590.0 222.0L612.0 222.0L612.0 240.0" fill="none" stroke="#bdbdbd" stroke-width="0.8" stroke-linejoin="round" stroke-linecap="round"/>
<path d="M612.0 222.0L640.0 222.0L646.0 230.0" fill="none" stroke="#bdbdbd" stroke-width="0.8" stroke-linejoin="round" stroke-linecap="round"/>
<path d="M612.0 240.0L612.0 300.0" fill="none" stroke="#bdbdbd" stroke-width="0.8" stroke-linejoin="round" stroke-linecap="round"/>
<path d="M585.0 262.0L640.0 262.0" fill="none" stroke="#bdbdbd" stroke-width="0.8" stroke-linejoin="round" stroke-linecap="round"/>
<path d="M560.0 205.0L575.0 205.0" fill="none" stroke="#bdbdbd" stroke-width="0.8" stroke-linejoin="round" stroke-linecap="round"/>
<path d="M556.0 298.0L640.0 298.0" fill="none" stroke="#bdbdbd" stroke-width="0.8" stroke-linejoin="round" stroke-linecap="round"/>
<path d="M538.0 309.0L547.0 309.0L547.0 338.0L538.0 338.0L538.0 309.0" fill="none" stroke="#bdbdbd" stroke-width="0.8" stroke-linejoin="round" stroke-linecap="round"/>
<path d="M547.0 308.7L574.5 308.7" fill="none" stroke="#bdbdbd" stroke-width="0.8" stroke-linejoin="round" stroke-linecap="round"/>
<path d="M576.0 330.5L606.5 330.5L606.5 348.5L584.0 348.5" fill="none" stroke="#bdbdbd" stroke-width="0.8" stroke-linejoin="round" stroke-linecap="round"/>
<path d="M576.0 345.0L576.0 420.0" fill="none" stroke="#bdbdbd" stroke-width="0.8" stroke-linejoin="round" stroke-linecap="round"/>
<path d="M576.0 400.0L640.0 400.0L660.0 400.0" fill="none" stroke="#bdbdbd" stroke-width="0.8" stroke-linejoin="round" stroke-linecap="round"/>
<path d="M640.0 400.0L640.0 420.0L652.0 420.0L652.0 440.0L690.0 440.0" fill="none" stroke="#bdbdbd" stroke-width="0.8" stroke-linejoin="round" stroke-linecap="round"/>
<path d="M576.0 420.0L600.0 420.0" fill="none" stroke="#bdbdbd" stroke-width="0.8" stroke-linejoin="round" stroke-linecap="round"/>
<path d="M612.0 345.0L622.0 380.0L640.0 380.0" fill="none" stroke="#bdbdbd" stroke-width="0.8" stroke-linejoin="round" stroke-linecap="round"/>
<path d="M402.0 345.0L412.0 341.0L432.0 341.0L432.0 347.0L470.0 347.0" fill="none" stroke="#bdbdbd" stroke-width="0.8" stroke-linejoin="round" stroke-linecap="round"/>
<path d="M470.0 345.0L470.0 380.0L485.0 380.0L485.0 410.0L470.0 410.0" fill="none" stroke="#bdbdbd" stroke-width="0.8" stroke-linejoin="round" stroke-linecap="round"/>
<path d="M430.0 410.0L485.0 410.0L485.0 457.0" fill="none" stroke="#bdbdbd" stroke-width="0.8" stroke-linejoin="round" stroke-linecap="round"/>
<path d="M485.0 345.0L497.0 345.0" fill="none" stroke="#bdbdbd" stroke-width="0.8" stroke-linejoin="round" stroke-linecap="round"/>
<rect x="476.7" y="150.9" width="8.3" height="8.3" fill="#0b2a73"/>
<rect x="545.2" y="135.5" width="8.3" height="8.3" fill="#0b2a73"/>
<rect x="493.2" y="186.3" width="8.3" height="8.3" fill="#0b2a73"/>
<rect x="640.4" y="356.9" width="8.3" height="8.3" fill="#0b2a73"/>
<rect x="600.5" y="418.8" width="8.5" height="8.5" fill="#0b2a73"/>
<rect x="646.4" y="418.8" width="12" height="8.5" fill="#0b2a73"/>
<rect x="641.1" y="215.0" width="8.3" height="8.3" fill="#0b2a73"/>
<rect x="577.5" y="105.2" width="8.5" height="8.5" fill="#0b2a73"/>
<g fill="#64a6fa" fill-opacity="0.85"><circle cx="431.1" cy="62.7" r="2.25"/><circle cx="425.5" cy="78.8" r="2.25"/><circle cx="431.1" cy="81.5" r="2.25"/><circle cx="438.8" cy="80.6" r="2.25"/><circle cx="448.7" cy="73.7" r="2.25"/><circle cx="452.1" cy="79.9" r="2.25"/><circle cx="473.1" cy="68.8" r="2.25"/><circle cx="478.6" cy="78.8" r="2.25"/><circle cx="463.1" cy="82.1" r="2.25"/><circle cx="466.4" cy="79.9" r="2.25"/><circle cx="469.8" cy="81.0" r="2.25"/><circle cx="459.8" cy="81.0" r="2.25"/><circle cx="485.2" cy="88.7" r="2.25"/><circle cx="478.6" cy="93.2" r="2.25"/><circle cx="480.8" cy="94.9" r="2.25"/><circle cx="496.3" cy="107.5" r="2.25"/><circle cx="498.5" cy="126.3" r="2.25"/><circle cx="430.0" cy="121.5" r="2.25"/><circle cx="423.3" cy="123.0" r="2.25"/><circle cx="458.7" cy="131.2" r="2.25"/><circle cx="455.4" cy="134.5" r="2.25"/><circle cx="474.8" cy="140.1" r="2.25"/><circle cx="446.1" cy="143.6" r="2.25"/><circle cx="451.0" cy="149.1" r="2.25"/><circle cx="472.0" cy="156.2" r="2.25"/><circle cx="503.6" cy="144.5" r="2.25"/><circle cx="511.8" cy="138.5" r="2.25"/><circle cx="519.1" cy="124.1" r="2.25"/><circle cx="522.2" cy="116.4" r="2.25"/><circle cx="523.9" cy="127.4" r="2.25"/><circle cx="528.8" cy="129.7" r="2.25"/><circle cx="530.6" cy="96.5" r="2.25"/><circle cx="540.5" cy="99.4" r="2.25"/><circle cx="556.0" cy="93.6" r="2.25"/><circle cx="566.0" cy="61.1" r="2.25"/><circle cx="516.2" cy="70.0" r="2.25"/><circle cx="527.9" cy="150.7" r="2.25"/><circle cx="525.7" cy="156.2" r="2.25"/><circle cx="480.8" cy="162.2" r="2.25"/><circle cx="505.1" cy="163.5" r="2.25"/><circle cx="501.4" cy="181.6" r="2.25"/><circle cx="527.3" cy="190.5" r="2.25"/><circle cx="567.1" cy="167.3" r="2.25"/><circle cx="569.3" cy="179.4" r="2.25"/><circle cx="571.5" cy="186.1" r="2.25"/><circle cx="574.8" cy="178.3" r="2.25"/><circle cx="590.3" cy="187.2" r="2.25"/><circle cx="600.0" cy="156.2" r="2.25"/><circle cx="608.8" cy="86.5" r="2.25"/><circle cx="656.0" cy="80.3" r="2.25"/><circle cx="647.1" cy="100.9" r="2.25"/><circle cx="667.0" cy="100.3" r="2.25"/><circle cx="658.6" cy="120.8" r="2.25"/><circle cx="657.1" cy="131.2" r="2.25"/><circle cx="653.1" cy="156.2" r="2.25"/><circle cx="648.2" cy="168.4" r="2.25"/><circle cx="610.0" cy="167.9" r="2.25"/><circle cx="637.6" cy="185.4" r="2.25"/><circle cx="767.0" cy="179.4" r="2.25"/><circle cx="600.0" cy="156.2" r="2.25"/><circle cx="426.7" cy="79.2" r="2.25"/><circle cx="404.3" cy="120.8" r="2.25"/><circle cx="422.7" cy="123.0" r="2.25"/><circle cx="502.4" cy="205.7" r="2.25"/><circle cx="506.0" cy="201.5" r="2.25"/><circle cx="510.9" cy="201.5" r="2.25"/><circle cx="509.0" cy="208.7" r="2.25"/><circle cx="524.1" cy="199.0" r="2.25"/><circle cx="523.5" cy="202.1" r="2.25"/><circle cx="516.3" cy="219.0" r="2.25"/><circle cx="520.5" cy="220.2" r="2.25"/><circle cx="522.3" cy="219.6" r="2.25"/><circle cx="519.3" cy="232.8" r="2.25"/><circle cx="521.7" cy="238.9" r="2.25"/><circle cx="513.9" cy="229.2" r="2.25"/><circle cx="527.1" cy="218.3" r="2.25"/><circle cx="529.6" cy="215.9" r="2.25"/><circle cx="543.4" cy="219.6" r="2.25"/><circle cx="548.3" cy="219.6" r="2.25"/><circle cx="552.5" cy="218.3" r="2.25"/><circle cx="550.7" cy="204.5" r="2.25"/><circle cx="549.5" cy="209.3" r="2.25"/><circle cx="551.3" cy="212.3" r="2.25"/><circle cx="557.9" cy="219.0" r="2.25"/><circle cx="560.3" cy="218.3" r="2.25"/><circle cx="562.7" cy="220.2" r="2.25"/><circle cx="565.7" cy="218.3" r="2.25"/><circle cx="567.6" cy="220.2" r="2.25"/><circle cx="571.2" cy="222.6" r="2.25"/><circle cx="568.8" cy="219.6" r="2.25"/><circle cx="573.6" cy="208.1" r="2.25"/><circle cx="572.4" cy="205.7" r="2.25"/><circle cx="574.8" cy="212.9" r="2.25"/><circle cx="584.4" cy="211.7" r="2.25"/><circle cx="589.3" cy="212.3" r="2.25"/><circle cx="603.7" cy="194.8" r="2.25"/><circle cx="609.8" cy="194.2" r="2.25"/><circle cx="603.7" cy="199.0" r="2.25"/><circle cx="618.8" cy="200.9" r="2.25"/><circle cx="618.8" cy="205.7" r="2.25"/><circle cx="605.5" cy="219.0" r="2.25"/><circle cx="608.0" cy="222.0" r="2.25"/><circle cx="612.2" cy="228.6" r="2.25"/><circle cx="602.5" cy="234.0" r="2.25"/><circle cx="608.6" cy="234.0" r="2.25"/><circle cx="604.3" cy="238.3" r="2.25"/><circle cx="603.1" cy="240.7" r="2.25"/><circle cx="603.7" cy="249.7" r="2.25"/><circle cx="594.1" cy="252.1" r="2.25"/><circle cx="608.0" cy="255.7" r="2.25"/><circle cx="614.6" cy="243.7" r="2.25"/><circle cx="592.9" cy="226.2" r="2.25"/><circle cx="589.3" cy="227.4" r="2.25"/><circle cx="586.2" cy="228.6" r="2.25"/><circle cx="584.4" cy="236.4" r="2.25"/><circle cx="586.2" cy="237.6" r="2.25"/><circle cx="583.2" cy="240.7" r="2.25"/><circle cx="582.0" cy="232.2" r="2.25"/><circle cx="578.4" cy="231.0" r="2.25"/><circle cx="574.8" cy="229.8" r="2.25"/><circle cx="573.6" cy="232.2" r="2.25"/><circle cx="571.2" cy="231.6" r="2.25"/><circle cx="567.6" cy="232.8" r="2.25"/><circle cx="565.1" cy="233.4" r="2.25"/><circle cx="562.1" cy="233.4" r="2.25"/><circle cx="560.3" cy="237.0" r="2.25"/><circle cx="561.5" cy="238.3" r="2.25"/><circle cx="562.7" cy="240.7" r="2.25"/><circle cx="566.3" cy="244.3" r="2.25"/><circle cx="561.5" cy="247.9" r="2.25"/><circle cx="556.7" cy="244.9" r="2.25"/><circle cx="553.1" cy="232.2" r="2.25"/><circle cx="550.7" cy="233.4" r="2.25"/><circle cx="549.5" cy="237.0" r="2.25"/><circle cx="547.6" cy="240.7" r="2.25"/><circle cx="544.6" cy="238.3" r="2.25"/><circle cx="542.8" cy="239.5" r="2.25"/><circle cx="541.0" cy="241.9" r="2.25"/><circle cx="538.6" cy="243.1" r="2.25"/><circle cx="536.2" cy="239.5" r="2.25"/><circle cx="532.6" cy="241.9" r="2.25"/><circle cx="530.2" cy="243.1" r="2.25"/><circle cx="529.6" cy="238.3" r="2.25"/><circle cx="531.4" cy="234.6" r="2.25"/><circle cx="535.0" cy="232.8" r="2.25"/><circle cx="538.0" cy="232.2" r="2.25"/><circle cx="525.9" cy="227.4" r="2.25"/><circle cx="528.3" cy="229.8" r="2.25"/><circle cx="524.1" cy="228.6" r="2.25"/><circle cx="539.8" cy="246.7" r="2.25"/><circle cx="541.6" cy="251.5" r="2.25"/><circle cx="537.4" cy="253.9" r="2.25"/><circle cx="536.2" cy="249.1" r="2.25"/><circle cx="550.7" cy="252.7" r="2.25"/><circle cx="555.5" cy="255.1" r="2.25"/><circle cx="562.7" cy="253.9" r="2.25"/><circle cx="565.1" cy="251.5" r="2.25"/><circle cx="567.6" cy="257.6" r="2.25"/><circle cx="572.4" cy="246.7" r="2.25"/><circle cx="573.6" cy="251.5" r="2.25"/><circle cx="577.2" cy="252.7" r="2.25"/><circle cx="579.6" cy="253.9" r="2.25"/><circle cx="582.0" cy="257.6" r="2.25"/><circle cx="586.2" cy="255.1" r="2.25"/><circle cx="589.3" cy="257.6" r="2.25"/><circle cx="577.2" cy="240.7" r="2.25"/><circle cx="590.5" cy="241.9" r="2.25"/><circle cx="536.2" cy="226.2" r="2.25"/><circle cx="533.8" cy="225.0" r="2.25"/><circle cx="538.6" cy="235.8" r="2.25"/><circle cx="542.2" cy="234.0" r="2.25"/><circle cx="545.8" cy="232.2" r="2.25"/><circle cx="553.1" cy="226.2" r="2.25"/><circle cx="572.4" cy="226.2" r="2.25"/><circle cx="577.2" cy="225.0" r="2.25"/><circle cx="580.8" cy="222.6" r="2.25"/><circle cx="527.7" cy="237.6" r="2.25"/><circle cx="530.8" cy="240.1" r="2.25"/><circle cx="533.2" cy="238.9" r="2.25"/><circle cx="535.6" cy="236.4" r="2.25"/><circle cx="536.8" cy="241.9" r="2.25"/><circle cx="539.2" cy="239.5" r="2.25"/><circle cx="534.4" cy="243.7" r="2.25"/><circle cx="532.0" cy="244.9" r="2.25"/><circle cx="540.4" cy="237.6" r="2.25"/><circle cx="543.4" cy="241.9" r="2.25"/><circle cx="545.8" cy="240.7" r="2.25"/><circle cx="548.3" cy="238.3" r="2.25"/><circle cx="551.3" cy="236.4" r="2.25"/><circle cx="554.3" cy="235.2" r="2.25"/><circle cx="556.7" cy="237.6" r="2.25"/><circle cx="559.1" cy="240.7" r="2.25"/><circle cx="556.7" cy="241.3" r="2.25"/><circle cx="553.7" cy="238.9" r="2.25"/><circle cx="551.3" cy="241.3" r="2.25"/><circle cx="548.9" cy="243.7" r="2.25"/><circle cx="546.4" cy="244.9" r="2.25"/><circle cx="544.0" cy="246.1" r="2.25"/><circle cx="566.9" cy="228.6" r="2.25"/><circle cx="569.4" cy="229.8" r="2.25"/><circle cx="571.8" cy="228.6" r="2.25"/><circle cx="574.2" cy="228.0" r="2.25"/><circle cx="576.6" cy="230.4" r="2.25"/><circle cx="579.0" cy="232.8" r="2.25"/><circle cx="581.4" cy="234.0" r="2.25"/><circle cx="575.4" cy="232.8" r="2.25"/><circle cx="573.0" cy="234.6" r="2.25"/><circle cx="570.6" cy="234.0" r="2.25"/><circle cx="568.2" cy="235.2" r="2.25"/><circle cx="565.7" cy="236.4" r="2.25"/><circle cx="572.4" cy="220.2" r="2.25"/><circle cx="574.8" cy="217.7" r="2.25"/><circle cx="577.2" cy="220.2" r="2.25"/><circle cx="579.0" cy="218.3" r="2.25"/><circle cx="570.0" cy="217.1" r="2.25"/><circle cx="571.8" cy="214.1" r="2.25"/><circle cx="574.2" cy="211.1" r="2.25"/><circle cx="577.2" cy="214.1" r="2.25"/><circle cx="579.6" cy="212.9" r="2.25"/><circle cx="583.2" cy="219.0" r="2.25"/><circle cx="585.0" cy="221.4" r="2.25"/><circle cx="586.9" cy="219.0" r="2.25"/><circle cx="582.0" cy="226.2" r="2.25"/><circle cx="584.4" cy="229.8" r="2.25"/><circle cx="586.9" cy="232.2" r="2.25"/><circle cx="588.7" cy="234.0" r="2.25"/><circle cx="591.1" cy="231.6" r="2.25"/><circle cx="580.8" cy="238.3" r="2.25"/><circle cx="578.4" cy="240.1" r="2.25"/><circle cx="579.6" cy="243.1" r="2.25"/><circle cx="577.2" cy="244.9" r="2.25"/><circle cx="574.8" cy="243.1" r="2.25"/><circle cx="584.4" cy="239.5" r="2.25"/><circle cx="536.2" cy="255.6" r="2.25"/><circle cx="539.8" cy="256.2" r="2.25"/><circle cx="567.6" cy="257.4" r="2.25"/><circle cx="571.2" cy="256.2" r="2.25"/><circle cx="577.2" cy="256.8" r="2.25"/><circle cx="582.0" cy="256.2" r="2.25"/><circle cx="585.6" cy="255.6" r="2.25"/><circle cx="591.7" cy="258.0" r="2.25"/><circle cx="594.1" cy="257.4" r="2.25"/><circle cx="596.5" cy="259.8" r="2.25"/><circle cx="590.5" cy="261.6" r="2.25"/><circle cx="592.9" cy="264.0" r="2.25"/><circle cx="608.0" cy="256.8" r="2.25"/><circle cx="608.0" cy="264.0" r="2.25"/><circle cx="619.4" cy="266.5" r="2.25"/><circle cx="617.0" cy="270.7" r="2.25"/><circle cx="608.6" cy="270.7" r="2.25"/><circle cx="612.2" cy="271.3" r="2.25"/><circle cx="615.2" cy="271.9" r="2.25"/><circle cx="589.3" cy="271.9" r="2.25"/><circle cx="585.6" cy="273.1" r="2.25"/><circle cx="580.8" cy="274.9" r="2.25"/><circle cx="584.4" cy="279.1" r="2.25"/><circle cx="588.7" cy="283.3" r="2.25"/><circle cx="599.5" cy="288.8" r="2.25"/><circle cx="615.2" cy="287.6" r="2.25"/><circle cx="617.0" cy="277.3" r="2.25"/><circle cx="617.0" cy="279.7" r="2.25"/><circle cx="600.1" cy="299.6" r="2.25"/><circle cx="601.9" cy="304.5" r="2.25"/><circle cx="589.9" cy="305.7" r="2.25"/><circle cx="589.9" cy="311.7" r="2.25"/><circle cx="609.2" cy="302.0" r="2.25"/><circle cx="612.8" cy="303.3" r="2.25"/><circle cx="606.2" cy="310.5" r="2.25"/><circle cx="609.8" cy="312.3" r="2.25"/><circle cx="604.3" cy="315.3" r="2.25"/><circle cx="610.4" cy="318.3" r="2.25"/><circle cx="612.8" cy="321.3" r="2.25"/><circle cx="604.9" cy="325.0" r="2.25"/><circle cx="619.4" cy="291.2" r="2.25"/><circle cx="546.4" cy="267.7" r="2.25"/><circle cx="548.3" cy="269.5" r="2.25"/><circle cx="551.9" cy="274.3" r="2.25"/><circle cx="549.5" cy="274.9" r="2.25"/><circle cx="548.3" cy="279.1" r="2.25"/><circle cx="550.1" cy="283.3" r="2.25"/><circle cx="553.1" cy="267.1" r="2.25"/><circle cx="555.5" cy="269.5" r="2.25"/><circle cx="560.3" cy="270.7" r="2.25"/><circle cx="562.7" cy="274.9" r="2.25"/><circle cx="564.5" cy="277.3" r="2.25"/><circle cx="560.9" cy="277.3" r="2.25"/><circle cx="562.1" cy="281.5" r="2.25"/><circle cx="565.7" cy="283.3" r="2.25"/><circle cx="570.6" cy="281.5" r="2.25"/><circle cx="565.1" cy="287.0" r="2.25"/><circle cx="561.5" cy="291.2" r="2.25"/><circle cx="567.6" cy="271.9" r="2.25"/><circle cx="568.2" cy="268.3" r="2.25"/><circle cx="571.2" cy="266.5" r="2.25"/><circle cx="573.6" cy="265.3" r="2.25"/><circle cx="577.2" cy="265.9" r="2.25"/><circle cx="579.6" cy="267.1" r="2.25"/><circle cx="557.9" cy="310.5" r="2.25"/><circle cx="562.1" cy="308.7" r="2.25"/><circle cx="556.1" cy="325.0" r="2.25"/><circle cx="572.4" cy="269.5" r="2.25"/><circle cx="574.8" cy="270.7" r="2.25"/><circle cx="583.2" cy="275.5" r="2.25"/><circle cx="579.6" cy="276.7" r="2.25"/><circle cx="542.2" cy="258.6" r="2.25"/><circle cx="544.6" cy="261.0" r="2.25"/><circle cx="547.6" cy="262.2" r="2.25"/><circle cx="550.7" cy="264.7" r="2.25"/><circle cx="554.3" cy="261.6" r="2.25"/><circle cx="557.3" cy="260.4" r="2.25"/><circle cx="560.3" cy="261.6" r="2.25"/><circle cx="562.7" cy="259.8" r="2.25"/><circle cx="565.1" cy="262.2" r="2.25"/><circle cx="556.7" cy="264.0" r="2.25"/><circle cx="559.7" cy="265.9" r="2.25"/><circle cx="562.7" cy="267.1" r="2.25"/><circle cx="565.7" cy="265.3" r="2.25"/><circle cx="546.4" cy="264.0" r="2.25"/><circle cx="543.4" cy="256.8" r="2.25"/><circle cx="574.8" cy="261.0" r="2.25"/><circle cx="578.4" cy="262.2" r="2.25"/><circle cx="582.0" cy="260.4" r="2.25"/><circle cx="584.4" cy="263.4" r="2.25"/><circle cx="586.9" cy="259.8" r="2.25"/><circle cx="579.6" cy="258.6" r="2.25"/><circle cx="582.4" cy="328.4" r="2.25"/><circle cx="589.7" cy="327.8" r="2.25"/><circle cx="604.7" cy="326.0" r="2.25"/><circle cx="612.0" cy="321.2" r="2.25"/><circle cx="631.9" cy="320.0" r="2.25"/><circle cx="616.2" cy="331.5" r="2.25"/><circle cx="618.6" cy="336.9" r="2.25"/><circle cx="621.6" cy="339.3" r="2.25"/><circle cx="624.0" cy="339.3" r="2.25"/><circle cx="626.4" cy="338.7" r="2.25"/><circle cx="621.6" cy="341.1" r="2.25"/><circle cx="616.8" cy="342.9" r="2.25"/><circle cx="631.9" cy="339.3" r="2.25"/><circle cx="625.8" cy="349.6" r="2.25"/><circle cx="629.5" cy="352.6" r="2.25"/><circle cx="630.7" cy="355.0" r="2.25"/><circle cx="621.0" cy="353.2" r="2.25"/><circle cx="632.5" cy="365.8" r="2.25"/><circle cx="626.4" cy="369.5" r="2.25"/><circle cx="639.1" cy="366.4" r="2.25"/><circle cx="651.2" cy="362.2" r="2.25"/><circle cx="635.5" cy="372.5" r="2.25"/><circle cx="636.1" cy="376.7" r="2.25"/><circle cx="628.3" cy="374.9" r="2.25"/><circle cx="621.6" cy="379.1" r="2.25"/><circle cx="585.4" cy="358.0" r="2.25"/><circle cx="602.9" cy="380.3" r="2.25"/><circle cx="639.1" cy="383.9" r="2.25"/><circle cx="640.9" cy="388.2" r="2.25"/><circle cx="621.0" cy="388.2" r="2.25"/><circle cx="663.2" cy="382.7" r="2.25"/><circle cx="582.4" cy="386.9" r="2.25"/><circle cx="593.3" cy="388.8" r="2.25"/><circle cx="589.0" cy="334.5" r="2.25"/><circle cx="642.7" cy="361.0" r="2.25"/><circle cx="621.6" cy="371.3" r="2.25"/><circle cx="583.6" cy="387.4" r="2.25"/><circle cx="592.7" cy="389.2" r="2.25"/><circle cx="593.3" cy="392.2" r="2.25"/><circle cx="621.0" cy="388.0" r="2.25"/><circle cx="640.3" cy="387.4" r="2.25"/><circle cx="603.5" cy="400.1" r="2.25"/><circle cx="595.7" cy="412.7" r="2.25"/><circle cx="594.5" cy="415.2" r="2.25"/><circle cx="623.4" cy="410.1" r="2.25"/><circle cx="634.9" cy="405.5" r="2.25"/><circle cx="637.9" cy="414.6" r="2.25"/><circle cx="636.7" cy="420.6" r="2.25"/><circle cx="621.0" cy="420.0" r="2.25"/><circle cx="648.8" cy="398.3" r="2.25"/><circle cx="651.2" cy="399.5" r="2.25"/><circle cx="653.6" cy="401.9" r="2.25"/><circle cx="652.4" cy="403.1" r="2.25"/><circle cx="661.4" cy="406.1" r="2.25"/><circle cx="655.4" cy="410.9" r="2.25"/><circle cx="656.0" cy="414.6" r="2.25"/><circle cx="662.0" cy="417.3" r="2.25"/><circle cx="656.6" cy="423.0" r="2.25"/><circle cx="659.6" cy="423.6" r="2.25"/><circle cx="662.0" cy="425.4" r="2.25"/><circle cx="674.1" cy="438.7" r="2.25"/><circle cx="667.5" cy="438.7" r="2.25"/><circle cx="610.2" cy="435.7" r="2.25"/><circle cx="612.0" cy="438.1" r="2.25"/><circle cx="692.2" cy="410.1" r="2.25"/><circle cx="604.7" cy="418.8" r="2.25"/><circle cx="660.8" cy="451.9" r="2.25"/><circle cx="669.3" cy="447.7" r="2.25"/><circle cx="641.5" cy="444.1" r="2.25"/><circle cx="642.7" cy="439.3" r="2.25"/><circle cx="628.3" cy="397.1" r="2.25"/><circle cx="631.9" cy="397.1" r="2.25"/><circle cx="548.3" cy="332.4" r="2.25"/><circle cx="550.5" cy="332.4" r="2.25"/><circle cx="572.6" cy="334.0" r="2.25"/><circle cx="572.6" cy="338.4" r="2.25"/><circle cx="540.5" cy="343.9" r="2.25"/><circle cx="570.4" cy="359.4" r="2.25"/><circle cx="571.5" cy="361.6" r="2.25"/><circle cx="557.1" cy="367.1" r="2.25"/><circle cx="557.1" cy="416.4" r="2.25"/><circle cx="557.1" cy="421.3" r="2.25"/><circle cx="565.3" cy="422.0" r="2.25"/><circle cx="572.6" cy="414.0" r="2.25"/><circle cx="494.1" cy="359.8" r="2.25"/><circle cx="493.6" cy="374.4" r="2.25"/><circle cx="491.9" cy="385.5" r="2.25"/><circle cx="494.7" cy="399.2" r="2.25"/><circle cx="494.7" cy="409.1" r="2.25"/><circle cx="505.6" cy="419.1" r="2.25"/><circle cx="501.4" cy="429.5" r="2.25"/><circle cx="483.0" cy="418.0" r="2.25"/><circle cx="481.9" cy="426.2" r="2.25"/><circle cx="472.0" cy="429.7" r="2.25"/><circle cx="475.3" cy="449.4" r="2.25"/><circle cx="468.7" cy="451.8" r="2.25"/><circle cx="448.7" cy="421.3" r="2.25"/><circle cx="448.7" cy="424.6" r="2.25"/><circle cx="432.2" cy="434.6" r="2.25"/><circle cx="441.0" cy="442.3" r="2.25"/><circle cx="465.3" cy="388.6" r="2.25"/><circle cx="447.6" cy="385.5" r="2.25"/><circle cx="442.1" cy="376.6" r="2.25"/><circle cx="452.1" cy="377.1" r="2.25"/><circle cx="480.2" cy="366.5" r="2.25"/><circle cx="478.6" cy="362.7" r="2.25"/><circle cx="477.9" cy="356.1" r="2.25"/><circle cx="479.7" cy="350.1" r="2.25"/><circle cx="467.1" cy="353.2" r="2.25"/><circle cx="468.2" cy="344.3" r="2.25"/><circle cx="469.8" cy="330.2" r="2.25"/><circle cx="422.7" cy="332.4" r="2.25"/><circle cx="495.2" cy="449.4" r="2.25"/><circle cx="509.6" cy="450.1" r="2.25"/><circle cx="457.0" cy="290.4" r="2.25"/><circle cx="433.1" cy="302.7" r="2.25"/><circle cx="440.1" cy="302.7" r="2.25"/><circle cx="453.2" cy="316.1" r="2.25"/><circle cx="461.9" cy="312.6" r="2.25"/><circle cx="407.4" cy="329.1" r="2.25"/><circle cx="400.4" cy="336.8" r="2.25"/><circle cx="407.4" cy="335.4" r="2.25"/><circle cx="422.6" cy="331.9" r="2.25"/><circle cx="498.5" cy="202.0" r="2.25"/><circle cx="591.0" cy="60.3" r="2.25"/><circle cx="629.9" cy="200.8" r="2.25"/><circle cx="624.3" cy="230.7" r="2.25"/><circle cx="626.5" cy="241.8" r="2.25"/><circle cx="621.0" cy="266.1" r="2.25"/><circle cx="636.5" cy="277.8" r="2.25"/><circle cx="626.5" cy="292.6" r="2.25"/><circle cx="631.0" cy="308.8" r="2.25"/><circle cx="632.1" cy="319.2" r="2.25"/><circle cx="580.2" cy="81.6" r="2.25"/><circle cx="578.6" cy="92.2" r="2.25"/><circle cx="583.2" cy="93.2" r="2.25"/><circle cx="586.2" cy="92.2" r="2.25"/><circle cx="588.2" cy="90.2" r="2.25"/><circle cx="590.2" cy="89.1" r="2.25"/><circle cx="592.7" cy="91.2" r="2.25"/><circle cx="588.2" cy="94.7" r="2.25"/><circle cx="590.2" cy="98.2" r="2.25"/><circle cx="587.2" cy="99.7" r="2.25"/><circle cx="587.7" cy="103.2" r="2.25"/><circle cx="588.7" cy="105.2" r="2.25"/><circle cx="586.2" cy="107.2" r="2.25"/><circle cx="588.2" cy="111.8" r="2.25"/><circle cx="583.7" cy="112.3" r="2.25"/><circle cx="579.1" cy="111.3" r="2.25"/><circle cx="572.6" cy="109.7" r="2.25"/><circle cx="574.6" cy="99.7" r="2.25"/><circle cx="576.1" cy="102.2" r="2.25"/><circle cx="599.2" cy="87.6" r="2.25"/><circle cx="598.7" cy="90.2" r="2.25"/><circle cx="598.2" cy="92.7" r="2.25"/><circle cx="597.7" cy="94.7" r="2.25"/><circle cx="592.2" cy="77.1" r="2.25"/><circle cx="608.8" cy="86.9" r="2.25"/><circle cx="569.1" cy="119.3" r="2.25"/><circle cx="460.5" cy="79.6" r="2.25"/><circle cx="462.5" cy="81.6" r="2.25"/><circle cx="464.4" cy="82.9" r="2.25"/><circle cx="463.8" cy="78.3" r="2.25"/><circle cx="465.7" cy="79.6" r="2.25"/><circle cx="467.7" cy="78.9" r="2.25"/><circle cx="470.3" cy="78.9" r="2.25"/><circle cx="472.3" cy="79.3" r="2.25"/><circle cx="451.4" cy="79.6" r="2.25"/><circle cx="451.4" cy="82.9" r="2.25"/><circle cx="457.2" cy="82.9" r="2.25"/><circle cx="448.1" cy="73.7" r="2.25"/><circle cx="451.4" cy="72.4" r="2.25"/><circle cx="438.3" cy="79.6" r="2.25"/><circle cx="438.3" cy="81.6" r="2.25"/><circle cx="473.6" cy="68.5" r="2.25"/><circle cx="471.6" cy="68.9" r="2.25"/><circle cx="478.1" cy="94.6" r="2.25"/><circle cx="480.8" cy="93.3" r="2.25"/><circle cx="481.4" cy="92.0" r="2.25"/><circle cx="540.2" cy="99.2" r="2.25"/></g>
<g fill="#0a6cf5"><circle cx="464.2" cy="87.6" r="2.9"/><circle cx="464.7" cy="92.1" r="2.9"/><circle cx="475.3" cy="96.5" r="2.9"/><circle cx="483.0" cy="99.4" r="2.9"/><circle cx="509.6" cy="124.6" r="2.9"/><circle cx="529.9" cy="126.3" r="2.9"/><circle cx="532.8" cy="123.0" r="2.9"/><circle cx="544.9" cy="99.8" r="2.9"/><circle cx="562.2" cy="99.8" r="2.9"/><circle cx="564.8" cy="120.2" r="2.9"/><circle cx="502.9" cy="168.4" r="2.9"/><circle cx="533.9" cy="165.7" r="2.9"/><circle cx="536.1" cy="166.1" r="2.9"/><circle cx="536.1" cy="177.2" r="2.9"/><circle cx="475.3" cy="185.6" r="2.9"/><circle cx="562.0" cy="181.2" r="2.9"/><circle cx="643.8" cy="91.0" r="2.9"/><circle cx="616.6" cy="180.5" r="2.9"/><circle cx="509.0" cy="222.0" r="2.9"/><circle cx="525.9" cy="197.8" r="2.9"/><circle cx="539.8" cy="197.8" r="2.9"/><circle cx="542.2" cy="203.9" r="2.9"/><circle cx="542.2" cy="205.7" r="2.9"/><circle cx="533.2" cy="211.7" r="2.9"/><circle cx="535.6" cy="219.0" r="2.9"/><circle cx="554.3" cy="228.0" r="2.9"/><circle cx="557.9" cy="232.8" r="2.9"/><circle cx="524.7" cy="231.6" r="2.9"/><circle cx="527.7" cy="233.4" r="2.9"/><circle cx="531.4" cy="237.0" r="2.9"/><circle cx="534.4" cy="240.7" r="2.9"/><circle cx="537.4" cy="244.9" r="2.9"/><circle cx="541.6" cy="236.4" r="2.9"/><circle cx="544.0" cy="237.6" r="2.9"/><circle cx="570.0" cy="202.7" r="2.9"/><circle cx="573.0" cy="215.9" r="2.9"/><circle cx="573.6" cy="219.0" r="2.9"/><circle cx="574.8" cy="222.0" r="2.9"/><circle cx="582.0" cy="215.3" r="2.9"/><circle cx="580.2" cy="220.8" r="2.9"/><circle cx="565.1" cy="225.6" r="2.9"/><circle cx="570.0" cy="227.4" r="2.9"/><circle cx="574.8" cy="226.2" r="2.9"/><circle cx="579.6" cy="229.8" r="2.9"/><circle cx="584.4" cy="244.3" r="2.9"/><circle cx="586.2" cy="243.1" r="2.9"/><circle cx="582.0" cy="246.7" r="2.9"/><circle cx="573.0" cy="252.7" r="2.9"/><circle cx="601.3" cy="202.1" r="2.9"/><circle cx="563.9" cy="239.5" r="2.9"/><circle cx="548.3" cy="255.7" r="2.9"/><circle cx="551.9" cy="254.5" r="2.9"/><circle cx="555.5" cy="256.3" r="2.9"/><circle cx="559.1" cy="255.7" r="2.9"/><circle cx="545.8" cy="257.6" r="2.9"/><circle cx="601.3" cy="261.2" r="2.9"/><circle cx="500.0" cy="192.4" r="2.9"/><circle cx="529.0" cy="235.2" r="2.9"/><circle cx="532.6" cy="238.3" r="2.9"/><circle cx="536.2" cy="243.1" r="2.9"/><circle cx="539.8" cy="240.7" r="2.9"/><circle cx="601.3" cy="262.2" r="2.9"/><circle cx="603.1" cy="270.1" r="2.9"/><circle cx="593.5" cy="270.7" r="2.9"/><circle cx="578.4" cy="271.9" r="2.9"/><circle cx="575.4" cy="274.9" r="2.9"/><circle cx="580.2" cy="273.7" r="2.9"/><circle cx="591.7" cy="279.1" r="2.9"/><circle cx="592.9" cy="287.0" r="2.9"/><circle cx="588.7" cy="291.8" r="2.9"/><circle cx="591.1" cy="297.8" r="2.9"/><circle cx="608.6" cy="282.1" r="2.9"/><circle cx="607.4" cy="290.0" r="2.9"/><circle cx="614.0" cy="285.2" r="2.9"/><circle cx="550.7" cy="283.3" r="2.9"/><circle cx="550.7" cy="287.0" r="2.9"/><circle cx="551.3" cy="291.2" r="2.9"/><circle cx="548.3" cy="293.6" r="2.9"/><circle cx="558.5" cy="285.8" r="2.9"/><circle cx="546.4" cy="305.1" r="2.9"/><circle cx="568.8" cy="303.3" r="2.9"/><circle cx="557.9" cy="321.3" r="2.9"/><circle cx="584.4" cy="321.9" r="2.9"/><circle cx="614.0" cy="326.2" r="2.9"/><circle cx="545.8" cy="257.4" r="2.9"/><circle cx="549.5" cy="258.6" r="2.9"/><circle cx="554.3" cy="258.0" r="2.9"/><circle cx="557.9" cy="256.8" r="2.9"/><circle cx="561.5" cy="257.4" r="2.9"/><circle cx="551.9" cy="262.2" r="2.9"/><circle cx="548.9" cy="266.5" r="2.9"/><circle cx="555.5" cy="265.3" r="2.9"/><circle cx="614.4" cy="327.5" r="2.9"/><circle cx="618.4" cy="350.8" r="2.9"/><circle cx="621.0" cy="374.9" r="2.9"/><circle cx="626.4" cy="389.4" r="2.9"/><circle cx="658.2" cy="381.5" r="2.9"/><circle cx="585.4" cy="322.4" r="2.9"/><circle cx="592.1" cy="400.1" r="2.9"/><circle cx="598.7" cy="400.4" r="2.9"/><circle cx="604.7" cy="411.8" r="2.9"/><circle cx="641.3" cy="403.7" r="2.9"/><circle cx="661.8" cy="394.7" r="2.9"/><circle cx="661.4" cy="410.1" r="2.9"/><circle cx="642.7" cy="429.0" r="2.9"/><circle cx="661.4" cy="430.2" r="2.9"/><circle cx="624.0" cy="452.6" r="2.9"/><circle cx="672.9" cy="452.6" r="2.9"/><circle cx="516.2" cy="349.4" r="2.9"/><circle cx="543.4" cy="346.1" r="2.9"/><circle cx="444.3" cy="364.9" r="2.9"/><circle cx="494.7" cy="402.5" r="2.9"/><circle cx="474.2" cy="424.2" r="2.9"/><circle cx="469.1" cy="434.6" r="2.9"/><circle cx="458.7" cy="448.5" r="2.9"/><circle cx="571.7" cy="438.3" r="2.9"/><circle cx="460.9" cy="316.8" r="2.9"/><circle cx="408.5" cy="359.7" r="2.9"/><circle cx="626.1" cy="195.3" r="2.9"/><circle cx="635.4" cy="204.2" r="2.9"/><circle cx="644.7" cy="244.6" r="2.9"/><circle cx="623.9" cy="269.9" r="2.9"/><circle cx="576.1" cy="84.6" r="2.9"/><circle cx="569.6" cy="91.7" r="2.9"/><circle cx="578.1" cy="96.7" r="2.9"/><circle cx="604.3" cy="84.6" r="2.9"/><circle cx="564.6" cy="119.3" r="2.9"/><circle cx="474.2" cy="95.9" r="2.9"/><circle cx="476.8" cy="94.2" r="2.9"/><circle cx="465.1" cy="88.1" r="2.9"/><circle cx="529.7" cy="97.0" r="2.9"/></g>
<g fill="#0647a5"><circle cx="453.8" cy="75.9" r="2.9"/><circle cx="496.3" cy="112.0" r="2.9"/><circle cx="565.5" cy="136.3" r="2.9"/><circle cx="538.6" cy="212.3" r="2.9"/><circle cx="544.6" cy="225.6" r="2.9"/><circle cx="533.8" cy="226.8" r="2.9"/><circle cx="562.7" cy="209.9" r="2.9"/><circle cx="588.7" cy="213.5" r="2.9"/><circle cx="579.0" cy="226.2" r="2.9"/><circle cx="570.2" cy="248.1" r="2.9"/><circle cx="452.0" cy="328.0" r="2.9"/><circle cx="580.7" cy="87.3" r="2.9"/></g>
<g fill="#0a6cf5"><circle cx="458.7" cy="68.8" r="2.9"/><circle cx="448.7" cy="161.3" r="2.9"/><circle cx="531.7" cy="185.6" r="2.9"/><circle cx="567.7" cy="151.1" r="2.9"/><circle cx="572.6" cy="172.8" r="2.9"/><circle cx="607.4" cy="246.1" r="2.9"/><circle cx="636.7" cy="358.6" r="2.9"/><circle cx="604.7" cy="384.5" r="2.9"/><circle cx="588.4" cy="387.6" r="2.9"/><circle cx="645.1" cy="420.6" r="2.9"/><circle cx="658.4" cy="401.3" r="2.9"/><circle cx="669.3" cy="435.7" r="2.9"/><circle cx="605.1" cy="78.9" r="2.9"/><circle cx="532.1" cy="97.9" r="2.9"/></g>
<g fill="#7ab4fb"><circle cx="458.7" cy="68.8" r="2.1"/><circle cx="448.7" cy="161.3" r="2.1"/><circle cx="531.7" cy="185.6" r="2.1"/><circle cx="567.7" cy="151.1" r="2.1"/><circle cx="572.6" cy="172.8" r="2.1"/><circle cx="607.4" cy="246.1" r="2.1"/><circle cx="636.7" cy="358.6" r="2.1"/><circle cx="604.7" cy="384.5" r="2.1"/><circle cx="588.4" cy="387.6" r="2.1"/><circle cx="645.1" cy="420.6" r="2.1"/><circle cx="658.4" cy="401.3" r="2.1"/><circle cx="669.3" cy="435.7" r="2.1"/><circle cx="605.1" cy="78.9" r="2.1"/><circle cx="532.1" cy="97.9" r="2.1"/><circle cx="579.0" cy="111.0" r="2.1"/><circle cx="583.5" cy="112.0" r="2.1"/><circle cx="642.7" cy="361.0" r="2.1"/><circle cx="604.7" cy="418.8" r="2.1"/><circle cx="656.6" cy="423.0" r="2.1"/></g>
<g font-size="8" fill="#686868" text-anchor="middle" letter-spacing="0">
<text x="452.0" y="65.2">Ballard</text>
<text x="501.4" y="69.8">Phinney</text>
<text x="557.5" y="81.4">Meridian</text>
<text x="614.4" y="65.6">Ravenna</text>
<text x="509.0" y="105.0">Fremont</text>
<text x="658.6" y="95.7">Laurelhurst</text>
<text x="651.3" y="153.7">Edgewater</text>
<text x="651.3" y="161.0">Park</text>
<text x="752.2" y="165.6">Hunts</text>
<text x="752.2" y="172.9">Point</text>
<text x="775.7" y="140.5">Yarrow</text>
<text x="775.7" y="147.5">Point</text>
<text x="781.5" y="182.7">Clyd</text>
<text x="783.5" y="191.0">Hill</text>
<text x="394.4" y="142.2">Magnolia</text>
<text x="394.4" y="149.2">Bluff</text>
<text x="490.8" y="169.6">Queen</text>
<text x="490.8" y="176.9">Anne</text>
<text x="564.0" y="178.0">Broadway</text>
<text x="453.2" y="351.3">West</text>
<text x="453.2" y="359.0">Seattle</text>
<text x="588.0" y="336.3">Beacon</text>
<text x="588.0" y="343.6">Hill</text>
<text x="578.1" y="421.0">Van</text>
<text x="578.1" y="428.3">Asselt</text>
<text x="435.5" y="432.0">Lowman</text>
<text x="435.5" y="439.8">Beach</text>
<text x="435.5" y="447.0">Park</text>
<text x="663.0" y="373.4">Columbia</text>
<text x="636.5" y="396.7">South Seattle</text>
<text x="635.4" y="441.6">Holly Park</text>
<text x="778.3" y="332.9">Merce</text>
<text x="779.5" y="339.9">Islanc</text>
</g>
<text x="554.5" y="266" font-size="10" fill="#555" text-anchor="middle" letter-spacing="-0.1">Seattle</text>
<text x="247" y="178.7" font-size="8" fill="#686868">malt</text>
<g font-size="7" fill="#b0b0b4" text-anchor="middle" font-style="italic" letter-spacing="0.75"><text x="751" y="274">Lake</text><text x="751" y="284">Washington</text></g>
<g font-size="6.6" font-weight="bold" fill="#3c3c42" stroke="#fff" stroke-opacity="0.55" stroke-width="1" paint-order="stroke" text-anchor="middle">
<text x="541.2" y="64.2">J1</text>
<text x="589.8" y="88.9">U3</text>
<text x="491.9" y="101.8">J2</text>
<text x="543.8" y="116.6">J3</text>
<text x="424.4" y="133.2">Q1</text>
<text x="495.2" y="152.6">Q2</text>
<text x="582.5" y="175.6">C1</text>
<text x="600.6" y="110.8">U2</text>
<text x="628.8" y="188.4">C3</text>
<text x="493.0" y="197.7">Q3</text>
<text x="527.3" y="196.2">D1</text>
<text x="553.8" y="199.9">D2</text>
<text x="566.0" y="216.1">E1</text>
<text x="587.0" y="218.3">C2</text>
<text x="514.6" y="229.3">M1</text>
<text x="536.8" y="231.6">M2</text>
<text x="574.8" y="240.2">E2</text>
<text x="558.2" y="243.5">D3</text>
<text x="596.9" y="247.5">G1</text>
<text x="533.9" y="252.3">M3</text>
<text x="548.3" y="251.0">K1</text>
<text x="575.9" y="264.1">E3</text>
<text x="561.5" y="272.9">K2</text>
<text x="599.0" y="284.0">G2</text>
<text x="547.8" y="298.8">K3</text>
<text x="590.3" y="322.0">O1</text>
<text x="627.6" y="264.1">G3</text>
<text x="452.0" y="330.4">W3</text>
<text x="447.6" y="381.7">W2</text>
<text x="553.8" y="368.4">O2</text>
<text x="510.2" y="416.0">F1</text>
<text x="635.4" y="340.1">R1</text>
<text x="604.4" y="377.7">R2</text>
<text x="674.8" y="403.8">R3</text>
<text x="638.3" y="428.6">S1</text>
<text x="437.0" y="64.6">B1</text>
</g>
<rect x="498.5" y="441" width="242" height="9.4" fill="#fff" fill-opacity="0.65"/>
<text x="500" y="448.3" font-size="8.8" fill="#757575" letter-spacing="0.05">City of Seattle, County of King, Esri, HERE, DeLorme, NG...</text>
<g fill="#fff" stroke="#777" stroke-opacity="0.3" stroke-width="1.2" paint-order="stroke"><text x="747.5" y="432.8" font-size="4.7" font-weight="bold" letter-spacing="0.05">POWERED BY</text><text x="745.3" y="448" font-size="23" font-weight="bold" letter-spacing="-0.9">esri</text><circle cx="781.3" cy="431" r="2.1"/></g>
</svg>
</div>
<div class="abs" style="left:505.5px;top:32.3px;width:21.5px;height:62.8px;background:#fff"></div>
<svg class="abs" style="left:506.3px;top:32.3px" width="20" height="63" viewBox="0 0 20 63">
<path d="M5.7 10.5H14.3M10 6.2V14.8" stroke="#5a5a5a" stroke-width="1.1"/>
<g transform="translate(10 31.3) scale(1.17) translate(-10 -31.5)"><path d="M10 26L4.5 31.5H6V37H9V33.5H11V37H14V31.5H15.5L13.5 29.5V27H12.3V28.3Z" fill="#606060"/></g>
<path d="M6.4 51.6H13.6" stroke="#6a6a6a" stroke-width="1.2"/>
</svg>
</div>
<div class="panel" style="left:248px;top:461.5px;width:542px;height:128.5px;overflow:hidden">
<div class="title" style="top:3.25px;font-size:10.5px;letter-spacing:-0.200px">Use of Force Type</div>
<svg width="542" height="128"><path d="M5 89.6H528.7" stroke="#d9d9d9" stroke-width="1"/><rect x="11.49" y="84.80" width="23.52" height="4.30" fill="#4a7ebb"/><rect x="37.19" y="84.80" width="23.52" height="4.30" fill="#4a7ebb"/><rect x="62.89" y="84.80" width="23.52" height="4.30" fill="#4a7ebb"/><rect x="88.59" y="84.80" width="23.52" height="4.30" fill="#4a7ebb"/><rect x="114.29" y="80.00" width="23.52" height="9.10" fill="#4a7ebb"/><rect x="139.99" y="80.00" width="23.52" height="9.10" fill="#4a7ebb"/><rect x="165.69" y="75.70" width="23.52" height="13.40" fill="#4a7ebb"/><rect x="191.39" y="75.70" width="23.52" height="13.40" fill="#4a7ebb"/><rect x="217.09" y="75.70" width="23.52" height="13.40" fill="#4a7ebb"/><rect x="242.79" y="71.40" width="23.52" height="17.70" fill="#4a7ebb"/><rect x="268.49" y="71.40" width="23.52" height="17.70" fill="#4a7ebb"/><rect x="294.19" y="66.50" width="23.52" height="22.60" fill="#4a7ebb"/><rect x="319.89" y="62.20" width="23.52" height="26.90" fill="#4a7ebb"/><rect x="345.59" y="57.40" width="23.52" height="31.70" fill="#4a7ebb"/><rect x="371.29" y="53.10" width="23.52" height="36.00" fill="#4a7ebb"/><rect x="396.99" y="48.30" width="23.52" height="40.80" fill="#4a7ebb"/><rect x="422.69" y="44.00" width="23.52" height="45.10" fill="#4a7ebb"/><rect x="448.39" y="34.90" width="23.52" height="54.20" fill="#4a7ebb"/><rect x="474.09" y="34.90" width="23.52" height="54.20" fill="#4a7ebb"/><rect x="499.79" y="25.70" width="23.52" height="63.40" fill="#4a7ebb"/><path d="M23.2 90.1V96.8" stroke="#d9d9d9" stroke-width="0.8"/><text x="23.2" y="101.8" font-size="6.1" fill="#757575" text-anchor="middle">Firearm –</text><text x="23.2" y="108.9" font-size="6.1" fill="#757575" text-anchor="middle">Rifle –…</text><path d="M49.0 90.1V109.8" stroke="#d9d9d9" stroke-width="0.8"/><text x="49.0" y="114.8" font-size="6.1" fill="#757575" text-anchor="middle">Beanbag /</text><text x="49.0" y="121.9" font-size="6.1" fill="#757575" text-anchor="middle">Stunbag</text><path d="M74.6 90.1V96.8" stroke="#d9d9d9" stroke-width="0.8"/><text x="74.6" y="101.8" font-size="6.1" fill="#757575" text-anchor="middle">Vehicle –</text><text x="74.6" y="108.9" font-size="6.1" fill="#757575" text-anchor="middle">Other</text><path d="M100.3 90.1V106.8" stroke="#d9d9d9" stroke-width="0.8"/><text x="100.3" y="111.8" font-size="6.1" fill="#757575" text-anchor="middle">Balls - OC</text><path d="M126.0 90.1V94.8" stroke="#d9d9d9" stroke-width="0.8"/><text x="126.0" y="99.8" font-size="6.1" fill="#757575" text-anchor="middle">Sting Ball</text><path d="M151.8 90.1V106.8" stroke="#d9d9d9" stroke-width="0.8"/><text x="151.8" y="111.8" font-size="6.1" fill="#757575" text-anchor="middle">Shield</text><path d="M177.4 90.1V96.8" stroke="#d9d9d9" stroke-width="0.8"/><text x="177.4" y="101.8" font-size="6.1" fill="#757575" text-anchor="middle">Baton –</text><text x="177.4" y="108.9" font-size="6.1" fill="#757575" text-anchor="middle">Straight…</text><path d="M203.2 90.1V109.8" stroke="#d9d9d9" stroke-width="0.8"/><text x="203.2" y="114.8" font-size="6.1" fill="#757575" text-anchor="middle">Hobble</text><text x="203.2" y="121.9" font-size="6.1" fill="#757575" text-anchor="middle">Restraint</text><path d="M228.8 90.1V96.8" stroke="#d9d9d9" stroke-width="0.8"/><text x="228.8" y="101.8" font-size="6.1" fill="#757575" text-anchor="middle">Firearm –</text><text x="228.8" y="108.9" font-size="6.1" fill="#757575" text-anchor="middle">Pistol –…</text><path d="M254.5 90.1V109.8" stroke="#d9d9d9" stroke-width="0.8"/><text x="254.5" y="114.8" font-size="6.1" fill="#757575" text-anchor="middle">Baton –</text><text x="254.5" y="121.9" font-size="6.1" fill="#757575" text-anchor="middle">Expande…</text><path d="M280.2 90.1V96.8" stroke="#d9d9d9" stroke-width="0.8"/><text x="280.2" y="101.8" font-size="6.1" fill="#757575" text-anchor="middle">Bicycle –</text><text x="280.2" y="108.9" font-size="6.1" fill="#757575" text-anchor="middle">Powerslide…</text><path d="M305.9 90.1V109.8" stroke="#d9d9d9" stroke-width="0.8"/><text x="305.9" y="114.8" font-size="6.1" fill="#757575" text-anchor="middle">Firearm –</text><text x="305.9" y="121.9" font-size="6.1" fill="#757575" text-anchor="middle">Rifle – Fire</text><path d="M331.6 90.1V94.8" stroke="#d9d9d9" stroke-width="0.8"/><text x="331.6" y="99.8" font-size="6.1" fill="#757575" text-anchor="middle">Canine</text><path d="M357.3 90.1V109.8" stroke="#d9d9d9" stroke-width="0.8"/><text x="357.3" y="114.8" font-size="6.1" fill="#757575" text-anchor="middle">Personal</text><text x="357.3" y="121.9" font-size="6.1" fill="#757575" text-anchor="middle">Weapons –…</text><path d="M383.1 90.1V96.8" stroke="#d9d9d9" stroke-width="0.8"/><text x="383.1" y="101.8" font-size="6.1" fill="#757575" text-anchor="middle">Firearm –</text><text x="383.1" y="108.9" font-size="6.1" fill="#757575" text-anchor="middle">Pistol – Fire</text><path d="M408.8 90.1V109.8" stroke="#d9d9d9" stroke-width="0.8"/><text x="408.8" y="114.8" font-size="6.1" fill="#757575" text-anchor="middle">Personal</text><text x="408.8" y="121.9" font-size="6.1" fill="#757575" text-anchor="middle">Weapons –…</text><path d="M434.4 90.1V94.8" stroke="#d9d9d9" stroke-width="0.8"/><text x="434.4" y="99.8" font-size="6.1" fill="#757575" text-anchor="middle">Balls - Blast</text><path d="M460.1 90.1V109.8" stroke="#d9d9d9" stroke-width="0.8"/><text x="460.1" y="114.8" font-size="6.1" fill="#757575" text-anchor="middle">Baton –</text><text x="460.1" y="121.9" font-size="6.1" fill="#757575" text-anchor="middle">Straight –…</text><path d="M485.8 90.1V96.8" stroke="#d9d9d9" stroke-width="0.8"/><text x="485.8" y="101.8" font-size="6.1" fill="#757575" text-anchor="middle">Chemical</text><text x="485.8" y="108.9" font-size="6.1" fill="#757575" text-anchor="middle">Agent –…</text><path d="M511.6 90.1V109.8" stroke="#d9d9d9" stroke-width="0.8"/><text x="511.6" y="114.8" font-size="6.1" fill="#757575" text-anchor="middle">Other</text><text x="511.6" y="121.9" font-size="6.1" fill="#757575" text-anchor="middle">Weapon –…</text></svg>
</div>
<div class="panel" style="left:797px;top:41px;width:220px;height:176px;overflow:hidden">
<div class="title" style="top:3.25px;font-size:10.5px;letter-spacing:-0.184px">Use of Force Incidents</div>
<div class="abs" style="left:0;top:19px;width:220px;height:30px;background:#f5f5f5"></div>
<div class="abs" style="left:7px;top:25px;width:199px;height:16px;border:1px solid #aaa;background:#fff;font-size:10px;line-height:16px;color:#aaa;padding-left:1px;letter-spacing:-0.2px;box-sizing:content-box">Filter</div>
<div class="abs" style="left:0;top:49px;width:209px;height:127px;overflow:hidden">
<div class="row" style="top:0"><i></i><span>9/30/2015, 9:00 PM: 1019 2 Av W</span></div>
<div class="row" style="top:30.3px"><i></i><span>9/30/2015, 9:00 PM: 1019 2 Av W</span></div>
<div class="row" style="top:60.6px"><i></i><span>9/30/2015, 9:00 PM: 1019 2 Av W</span></div>
<div class="row" style="top:90.9px"><i></i><span>9/30/2015, 9:00 PM: 400 2 Av Et S</span></div>
<div class="row" style="top:121.2px"><i></i><span>9/30/2015, 9:00 PM: 400 2 Av Et S</span></div>
</div>
<div class="sb" style="left:209px;top:49px;width:11px;height:127px"></div>
<div class="arr up" style="left:211.5px;top:54px"></div>
<div class="thumb" style="left:210.5px;top:61px;width:8px;height:33px"></div>
</div>

<div class="panel" style="left:797px;top:224.6px;width:106.3px;height:86.9px;overflow:hidden"><div class="title" style="top:4.45px;font-size:10.5px;letter-spacing:-0.172px">Citizen Injured?</div><svg width="106.3" height="86.9" style="left:0.00px;top:-0.60px"><path d="M6.7 49.7H94.3" stroke="#d9d9d9"/><rect x="11" y="39" width="37.6" height="10.200000000000003" fill="#4a7ebb"/><rect x="52.5" y="27.9" width="37.5" height="21.300000000000004" fill="#4a7ebb"/><path d="M30 50.2V54.3" stroke="#d9d9d9" stroke-width="0.8"/><text x="30" y="59.599999999999994" font-size="6" fill="#757575" text-anchor="middle">Yes</text><path d="M71 50.2V67" stroke="#d9d9d9" stroke-width="0.8"/><text x="71" y="72.3" font-size="6" fill="#757575" text-anchor="middle">No</text></svg></div>
<div class="panel" style="left:910.4px;top:224.6px;width:106.6px;height:86.9px;overflow:hidden"><div class="title" style="top:4.45px;font-size:10.5px;letter-spacing:-0.098px">Citizen Hospitalized?</div><svg width="106.6" height="86.9" style="left:-0.40px;top:-0.60px"><path d="M7.5 49.7H94" stroke="#d9d9d9"/><rect x="11.7" y="42.6" width="37.3" height="6.600000000000001" fill="#4a7ebb"/><rect x="52.9" y="27" width="37.1" height="22.200000000000003" fill="#4a7ebb"/><path d="M30.5 50.2V54.3" stroke="#d9d9d9" stroke-width="0.8"/><text x="30.5" y="59.599999999999994" font-size="6" fill="#757575" text-anchor="middle">Yes</text><path d="M71.5 50.2V67" stroke="#d9d9d9" stroke-width="0.8"/><text x="71.5" y="72.3" font-size="6" fill="#757575" text-anchor="middle">No</text></svg></div>
<div class="panel" style="left:797px;top:319.5px;width:220px;height:86.5px;overflow:hidden"><div class="title" style="top:3.45px;font-size:10.5px;letter-spacing:-0.092px">Citizen Arrested?</div><svg width="220" height="86.5" style="left:0.00px;top:0.50px"><path d="M6.7 48.1H207" stroke="#d9d9d9"/><rect x="16.5" y="42.4" width="85.3" height="5.200000000000003" fill="#4a7ebb"/><rect x="111.6" y="26.7" width="85.6" height="20.900000000000002" fill="#4a7ebb"/><path d="M59.3 48.6V53" stroke="#d9d9d9" stroke-width="0.8"/><text x="59.3" y="58.3" font-size="6" fill="#757575" text-anchor="middle">No</text><path d="M154 48.6V66" stroke="#d9d9d9" stroke-width="0.8"/><text x="154" y="71.3" font-size="6" fill="#757575" text-anchor="middle">Yes</text></svg></div>
<div class="panel" style="left:797px;top:413px;width:220px;height:158px;overflow:hidden">
<div class="title" style="top:4.25px;font-size:10.5px;letter-spacing:-0.213px">Weather</div>
<svg width="220" height="158"><path d="M61.40 89.20L61.40 31.00A58.2 58.2 0 0 1 93.12 40.41Z" fill="#005b94" stroke="#fff" stroke-width="0.4" stroke-linejoin="round"/>
<path d="M61.40 89.20L93.12 40.41A58.2 58.2 0 0 1 111.25 59.16Z" fill="#2f88b8" stroke="#fff" stroke-width="0.4" stroke-linejoin="round"/>
<path d="M61.40 89.20L111.25 59.16A58.2 58.2 0 1 1 6.93 68.71Z" fill="#64b4dc" stroke="#fff" stroke-width="0.4" stroke-linejoin="round"/>
<path d="M61.40 89.20L6.93 68.71A58.2 58.2 0 0 1 52.15 31.74Z" fill="#a0e8ff" stroke="#fff" stroke-width="0.4" stroke-linejoin="round"/>
<path d="M61.40 89.20L52.15 31.74A58.2 58.2 0 0 1 54.54 31.41Z" fill="#8dd6f6" stroke="#fff" stroke-width="0.4" stroke-linejoin="round"/>
<path d="M61.40 89.20L54.54 31.41A58.2 58.2 0 0 1 60.56 31.01Z" fill="#7cc6ee" stroke="#fff" stroke-width="0.4" stroke-linejoin="round"/>
<path d="M61.40 89.20L60.56 31.01A58.2 58.2 0 0 1 61.40 31.00Z" fill="#6cb8e6" stroke="#fff" stroke-width="0.4" stroke-linejoin="round"/></svg>
<div class="abs" style="left:127.1px;top:32.4px;width:6.8px;height:6.8px;border-radius:50%;background:#005b94"></div><div class="pl" style="left:137px;top:32.0px">Indoors<br>18.3% (278)</div><div class="abs" style="left:127.1px;top:52.9px;width:6.8px;height:6.8px;border-radius:50%;background:#2f88b8"></div><div class="pl" style="left:137px;top:52.5px">Rain<br>14.4% (218)</div><div class="abs" style="left:127.1px;top:73.4px;width:6.8px;height:6.8px;border-radius:50%;background:#64b4dc"></div><div class="pl" style="left:137px;top:73.0px">Clear<br>128.7% (1950)</div><div class="abs" style="left:127.1px;top:93.9px;width:6.8px;height:6.8px;border-radius:50%;background:#a0e8ff"></div><div class="pl" style="left:137px;top:93.5px">Cloudy<br>33.5% (507)</div><div class="abs" style="left:127.1px;top:114.4px;width:6.8px;height:6.8px;border-radius:50%;background:#8dd6f6"></div><div class="pl" style="left:137px;top:114.0px">Other (Specify In Narrative)<br>1.3% (20)</div><div class="abs" style="left:127.1px;top:134.9px;width:6.8px;height:6.8px;border-radius:50%;background:#7cc6ee"></div><div class="pl" style="left:137px;top:134.5px">null<br>3.3% (50)</div><div class="abs" style="left:127.1px;top:155.4px;width:6.8px;height:6.8px;border-radius:50%;background:#6cb8e6"></div><div class="pl" style="left:137px;top:155.0px">Fog<br>0.5% (7)</div>
<div class="sb" style="left:210px;top:19px;width:10px;height:139px"></div>
<div class="arr up" style="left:212px;top:24px"></div>
<div class="thumb" style="left:211px;top:31px;width:8px;height:92px"></div>
<div class="arr dn" style="left:212px;top:150px"></div>
</div>
<div class="abs" style="left:807px;top:571px;width:37px;height:19px;background:#fff;border-bottom:1px solid #0079c1"></div>
<div class="abs" style="left:811px;top:576px;font-size:8.5px;color:#4c4c4c;letter-spacing:-0.33px">Weather</div>
<div class="abs" style="left:847px;top:590px;width:34.5px;height:1px;background:#ccc"></div>
<div class="abs" style="left:850px;top:576px;font-size:8.5px;color:#6a6a6a;letter-spacing:-0.2px">Lighting</div>
<div class="abs" style="left:885px;top:590px;width:66px;height:1px;background:#ccc"></div>
<div class="abs" style="left:888px;top:576px;font-size:8.5px;color:#6a6a6a;letter-spacing:-0.36px;white-space:nowrap">Citizen Impaired?</div>

</body></html>
